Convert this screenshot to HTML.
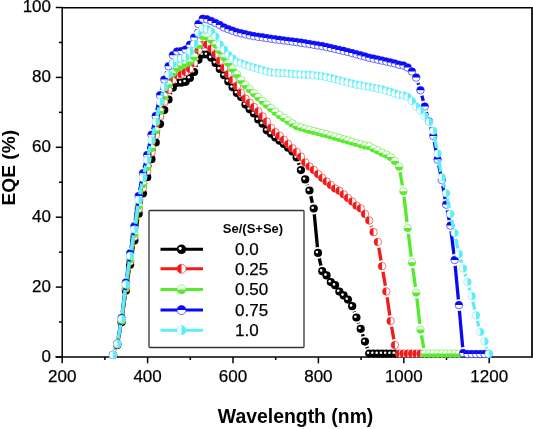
<!DOCTYPE html>
<html><head><meta charset="utf-8"><style>
html,body{margin:0;padding:0;background:#fff;width:533px;height:429px;overflow:hidden}
svg{display:block;will-change:transform}
.t{font-family:"Liberation Sans",sans-serif;font-size:17px;fill:#000;stroke:#000;stroke-width:0.25px}
.b{font-family:"Liberation Sans",sans-serif;font-weight:bold;fill:#000}
</style></head><body>
<svg width="533" height="429" viewBox="0 0 533 429">
<defs><mask id="mk" maskUnits="userSpaceOnUse" x="0" y="0" width="533" height="429"><rect width="533" height="429" fill="#fff"/><circle cx="113.04" cy="355.00" r="5.90" fill="#000"/><circle cx="117.31" cy="345.00" r="5.90" fill="#000"/><circle cx="121.58" cy="322.30" r="5.90" fill="#000"/><circle cx="125.85" cy="290.70" r="5.90" fill="#000"/><circle cx="130.12" cy="264.70" r="5.90" fill="#000"/><circle cx="134.39" cy="240.60" r="5.90" fill="#000"/><circle cx="138.66" cy="213.70" r="5.90" fill="#000"/><circle cx="142.93" cy="193.50" r="5.90" fill="#000"/><circle cx="147.20" cy="177.20" r="5.90" fill="#000"/><circle cx="151.47" cy="159.20" r="5.90" fill="#000"/><circle cx="155.74" cy="142.50" r="5.90" fill="#000"/><circle cx="160.01" cy="124.10" r="5.90" fill="#000"/><circle cx="164.28" cy="110.10" r="5.90" fill="#000"/><circle cx="168.55" cy="99.50" r="5.90" fill="#000"/><circle cx="172.82" cy="87.70" r="5.90" fill="#000"/><circle cx="177.09" cy="82.80" r="5.90" fill="#000"/><circle cx="181.36" cy="82.70" r="5.90" fill="#000"/><circle cx="185.63" cy="81.80" r="5.90" fill="#000"/><circle cx="189.90" cy="78.00" r="5.90" fill="#000"/><circle cx="194.17" cy="72.00" r="5.90" fill="#000"/><circle cx="198.44" cy="59.80" r="5.90" fill="#000"/><circle cx="202.71" cy="54.50" r="5.90" fill="#000"/><circle cx="206.98" cy="54.50" r="5.90" fill="#000"/><circle cx="211.25" cy="57.68" r="5.90" fill="#000"/><circle cx="215.52" cy="62.91" r="5.90" fill="#000"/><circle cx="219.79" cy="68.93" r="5.90" fill="#000"/><circle cx="224.06" cy="75.26" r="5.90" fill="#000"/><circle cx="228.33" cy="81.41" r="5.90" fill="#000"/><circle cx="232.60" cy="87.26" r="5.90" fill="#000"/><circle cx="236.87" cy="92.91" r="5.90" fill="#000"/><circle cx="241.14" cy="97.10" r="5.90" fill="#000"/><circle cx="245.41" cy="104.60" r="5.90" fill="#000"/><circle cx="249.68" cy="109.30" r="5.90" fill="#000"/><circle cx="253.95" cy="113.50" r="5.90" fill="#000"/><circle cx="258.22" cy="119.50" r="5.90" fill="#000"/><circle cx="262.49" cy="123.70" r="5.90" fill="#000"/><circle cx="266.76" cy="130.30" r="5.90" fill="#000"/><circle cx="271.03" cy="133.70" r="5.90" fill="#000"/><circle cx="275.30" cy="137.50" r="5.90" fill="#000"/><circle cx="279.57" cy="140.70" r="5.90" fill="#000"/><circle cx="283.84" cy="144.00" r="5.90" fill="#000"/><circle cx="288.11" cy="147.70" r="5.90" fill="#000"/><circle cx="292.38" cy="151.50" r="5.90" fill="#000"/><circle cx="296.65" cy="157.50" r="5.90" fill="#000"/><circle cx="300.92" cy="170.10" r="5.90" fill="#000"/><circle cx="305.19" cy="179.40" r="5.90" fill="#000"/><circle cx="309.46" cy="190.50" r="5.90" fill="#000"/><circle cx="313.73" cy="208.50" r="5.90" fill="#000"/><circle cx="318.00" cy="252.90" r="5.90" fill="#000"/><circle cx="322.27" cy="271.20" r="5.90" fill="#000"/><circle cx="326.54" cy="275.40" r="5.90" fill="#000"/><circle cx="330.81" cy="282.10" r="5.90" fill="#000"/><circle cx="335.08" cy="285.20" r="5.90" fill="#000"/><circle cx="339.35" cy="291.50" r="5.90" fill="#000"/><circle cx="343.62" cy="295.40" r="5.90" fill="#000"/><circle cx="347.89" cy="299.60" r="5.90" fill="#000"/><circle cx="352.16" cy="306.20" r="5.90" fill="#000"/><circle cx="356.43" cy="317.50" r="5.90" fill="#000"/><circle cx="360.70" cy="328.80" r="5.90" fill="#000"/><circle cx="364.97" cy="341.60" r="5.90" fill="#000"/><circle cx="369.24" cy="353.60" r="5.90" fill="#000"/><circle cx="373.51" cy="353.60" r="5.90" fill="#000"/><circle cx="377.78" cy="353.60" r="5.90" fill="#000"/><circle cx="382.05" cy="353.60" r="5.90" fill="#000"/><circle cx="386.32" cy="353.60" r="5.90" fill="#000"/><circle cx="390.59" cy="353.60" r="5.90" fill="#000"/><circle cx="394.86" cy="353.60" r="5.90" fill="#000"/></mask><mask id="mr" maskUnits="userSpaceOnUse" x="0" y="0" width="533" height="429"><rect width="533" height="429" fill="#fff"/><circle cx="113.04" cy="355.00" r="5.90" fill="#000"/><circle cx="117.31" cy="344.60" r="5.90" fill="#000"/><circle cx="121.58" cy="321.10" r="5.90" fill="#000"/><circle cx="125.85" cy="288.50" r="5.90" fill="#000"/><circle cx="130.12" cy="261.60" r="5.90" fill="#000"/><circle cx="134.39" cy="236.70" r="5.90" fill="#000"/><circle cx="138.66" cy="208.90" r="5.90" fill="#000"/><circle cx="142.93" cy="188.00" r="5.90" fill="#000"/><circle cx="147.20" cy="171.20" r="5.90" fill="#000"/><circle cx="151.47" cy="152.60" r="5.90" fill="#000"/><circle cx="155.74" cy="135.30" r="5.90" fill="#000"/><circle cx="160.01" cy="116.20" r="5.90" fill="#000"/><circle cx="164.28" cy="101.80" r="5.90" fill="#000"/><circle cx="168.55" cy="90.00" r="5.90" fill="#000"/><circle cx="172.82" cy="80.00" r="5.90" fill="#000"/><circle cx="177.09" cy="75.00" r="5.90" fill="#000"/><circle cx="181.36" cy="74.30" r="5.90" fill="#000"/><circle cx="185.63" cy="72.00" r="5.90" fill="#000"/><circle cx="189.90" cy="68.90" r="5.90" fill="#000"/><circle cx="194.17" cy="62.90" r="5.90" fill="#000"/><circle cx="198.44" cy="50.80" r="5.90" fill="#000"/><circle cx="202.71" cy="44.70" r="5.90" fill="#000"/><circle cx="206.98" cy="44.62" r="5.90" fill="#000"/><circle cx="211.25" cy="48.57" r="5.90" fill="#000"/><circle cx="215.52" cy="54.26" r="5.90" fill="#000"/><circle cx="219.79" cy="61.02" r="5.90" fill="#000"/><circle cx="224.06" cy="67.93" r="5.90" fill="#000"/><circle cx="228.33" cy="74.30" r="5.90" fill="#000"/><circle cx="232.60" cy="80.13" r="5.90" fill="#000"/><circle cx="236.87" cy="86.14" r="5.90" fill="#000"/><circle cx="241.14" cy="92.82" r="5.90" fill="#000"/><circle cx="245.41" cy="98.55" r="5.90" fill="#000"/><circle cx="249.68" cy="102.81" r="5.90" fill="#000"/><circle cx="253.95" cy="107.07" r="5.90" fill="#000"/><circle cx="258.22" cy="111.32" r="5.90" fill="#000"/><circle cx="262.49" cy="116.38" r="5.90" fill="#000"/><circle cx="266.76" cy="121.57" r="5.90" fill="#000"/><circle cx="271.03" cy="127.93" r="5.90" fill="#000"/><circle cx="275.30" cy="132.30" r="5.90" fill="#000"/><circle cx="279.57" cy="135.77" r="5.90" fill="#000"/><circle cx="283.84" cy="139.77" r="5.90" fill="#000"/><circle cx="288.11" cy="144.07" r="5.90" fill="#000"/><circle cx="292.38" cy="148.38" r="5.90" fill="#000"/><circle cx="296.65" cy="152.14" r="5.90" fill="#000"/><circle cx="300.92" cy="156.75" r="5.90" fill="#000"/><circle cx="305.19" cy="162.49" r="5.90" fill="#000"/><circle cx="309.46" cy="166.53" r="5.90" fill="#000"/><circle cx="313.73" cy="169.92" r="5.90" fill="#000"/><circle cx="318.00" cy="174.08" r="5.90" fill="#000"/><circle cx="322.27" cy="177.94" r="5.90" fill="#000"/><circle cx="326.54" cy="181.50" r="5.90" fill="#000"/><circle cx="330.81" cy="185.06" r="5.90" fill="#000"/><circle cx="335.08" cy="188.49" r="5.90" fill="#000"/><circle cx="339.35" cy="190.78" r="5.90" fill="#000"/><circle cx="343.62" cy="194.33" r="5.90" fill="#000"/><circle cx="347.89" cy="197.89" r="5.90" fill="#000"/><circle cx="352.16" cy="201.56" r="5.90" fill="#000"/><circle cx="356.43" cy="205.71" r="5.90" fill="#000"/><circle cx="360.70" cy="208.40" r="5.90" fill="#000"/><circle cx="364.97" cy="214.00" r="5.90" fill="#000"/><circle cx="369.24" cy="220.50" r="5.90" fill="#000"/><circle cx="373.51" cy="232.10" r="5.90" fill="#000"/><circle cx="377.78" cy="242.00" r="5.90" fill="#000"/><circle cx="382.05" cy="266.20" r="5.90" fill="#000"/><circle cx="386.32" cy="291.50" r="5.90" fill="#000"/><circle cx="390.59" cy="321.10" r="5.90" fill="#000"/><circle cx="394.86" cy="345.00" r="5.90" fill="#000"/><circle cx="399.13" cy="353.60" r="5.90" fill="#000"/><circle cx="403.40" cy="353.60" r="5.90" fill="#000"/><circle cx="407.67" cy="353.60" r="5.90" fill="#000"/><circle cx="411.94" cy="353.60" r="5.90" fill="#000"/><circle cx="416.21" cy="353.60" r="5.90" fill="#000"/><circle cx="420.48" cy="353.60" r="5.90" fill="#000"/></mask><mask id="mg" maskUnits="userSpaceOnUse" x="0" y="0" width="533" height="429"><rect width="533" height="429" fill="#fff"/><circle cx="113.04" cy="354.90" r="5.90" fill="#000"/><circle cx="117.31" cy="344.30" r="5.90" fill="#000"/><circle cx="121.58" cy="320.30" r="5.90" fill="#000"/><circle cx="125.85" cy="287.00" r="5.90" fill="#000"/><circle cx="130.12" cy="259.50" r="5.90" fill="#000"/><circle cx="134.39" cy="234.00" r="5.90" fill="#000"/><circle cx="138.66" cy="205.70" r="5.90" fill="#000"/><circle cx="142.93" cy="184.30" r="5.90" fill="#000"/><circle cx="147.20" cy="167.10" r="5.90" fill="#000"/><circle cx="151.47" cy="148.10" r="5.90" fill="#000"/><circle cx="155.74" cy="130.50" r="5.90" fill="#000"/><circle cx="160.01" cy="111.00" r="5.90" fill="#000"/><circle cx="164.28" cy="96.20" r="5.90" fill="#000"/><circle cx="168.55" cy="84.20" r="5.90" fill="#000"/><circle cx="172.82" cy="73.00" r="5.90" fill="#000"/><circle cx="177.09" cy="68.10" r="5.90" fill="#000"/><circle cx="181.36" cy="65.50" r="5.90" fill="#000"/><circle cx="185.63" cy="63.60" r="5.90" fill="#000"/><circle cx="189.90" cy="61.40" r="5.90" fill="#000"/><circle cx="194.17" cy="56.80" r="5.90" fill="#000"/><circle cx="198.44" cy="45.00" r="5.90" fill="#000"/><circle cx="202.71" cy="36.00" r="5.90" fill="#000"/><circle cx="206.98" cy="36.69" r="5.90" fill="#000"/><circle cx="211.25" cy="39.87" r="5.90" fill="#000"/><circle cx="215.52" cy="44.20" r="5.90" fill="#000"/><circle cx="219.79" cy="50.62" r="5.90" fill="#000"/><circle cx="224.06" cy="57.35" r="5.90" fill="#000"/><circle cx="228.33" cy="63.04" r="5.90" fill="#000"/><circle cx="232.60" cy="68.68" r="5.90" fill="#000"/><circle cx="236.87" cy="74.37" r="5.90" fill="#000"/><circle cx="241.14" cy="80.19" r="5.90" fill="#000"/><circle cx="245.41" cy="85.30" r="5.90" fill="#000"/><circle cx="249.68" cy="89.29" r="5.90" fill="#000"/><circle cx="253.95" cy="93.27" r="5.90" fill="#000"/><circle cx="258.22" cy="97.26" r="5.90" fill="#000"/><circle cx="262.49" cy="100.96" r="5.90" fill="#000"/><circle cx="266.76" cy="104.61" r="5.90" fill="#000"/><circle cx="271.03" cy="108.26" r="5.90" fill="#000"/><circle cx="275.30" cy="111.92" r="5.90" fill="#000"/><circle cx="279.57" cy="115.14" r="5.90" fill="#000"/><circle cx="283.84" cy="117.91" r="5.90" fill="#000"/><circle cx="288.11" cy="120.69" r="5.90" fill="#000"/><circle cx="292.38" cy="123.46" r="5.90" fill="#000"/><circle cx="296.65" cy="126.11" r="5.90" fill="#000"/><circle cx="300.92" cy="127.40" r="5.90" fill="#000"/><circle cx="305.19" cy="128.70" r="5.90" fill="#000"/><circle cx="309.46" cy="129.97" r="5.90" fill="#000"/><circle cx="313.73" cy="131.04" r="5.90" fill="#000"/><circle cx="318.00" cy="132.11" r="5.90" fill="#000"/><circle cx="322.27" cy="133.19" r="5.90" fill="#000"/><circle cx="326.54" cy="134.26" r="5.90" fill="#000"/><circle cx="330.81" cy="135.49" r="5.90" fill="#000"/><circle cx="335.08" cy="136.76" r="5.90" fill="#000"/><circle cx="339.35" cy="138.03" r="5.90" fill="#000"/><circle cx="343.62" cy="139.30" r="5.90" fill="#000"/><circle cx="347.89" cy="140.56" r="5.90" fill="#000"/><circle cx="352.16" cy="141.79" r="5.90" fill="#000"/><circle cx="356.43" cy="143.03" r="5.90" fill="#000"/><circle cx="360.70" cy="144.26" r="5.90" fill="#000"/><circle cx="364.97" cy="145.49" r="5.90" fill="#000"/><circle cx="369.24" cy="146.23" r="5.90" fill="#000"/><circle cx="373.51" cy="148.55" r="5.90" fill="#000"/><circle cx="377.78" cy="150.44" r="5.90" fill="#000"/><circle cx="382.05" cy="152.72" r="5.90" fill="#000"/><circle cx="386.32" cy="154.51" r="5.90" fill="#000"/><circle cx="390.59" cy="157.07" r="5.90" fill="#000"/><circle cx="394.86" cy="161.00" r="5.90" fill="#000"/><circle cx="399.13" cy="166.70" r="5.90" fill="#000"/><circle cx="403.40" cy="191.20" r="5.90" fill="#000"/><circle cx="407.67" cy="228.00" r="5.90" fill="#000"/><circle cx="411.94" cy="262.30" r="5.90" fill="#000"/><circle cx="416.21" cy="292.60" r="5.90" fill="#000"/><circle cx="420.48" cy="329.60" r="5.90" fill="#000"/><circle cx="424.75" cy="353.60" r="5.90" fill="#000"/><circle cx="429.02" cy="353.60" r="5.90" fill="#000"/><circle cx="433.29" cy="353.60" r="5.90" fill="#000"/><circle cx="437.56" cy="353.60" r="5.90" fill="#000"/><circle cx="441.83" cy="353.60" r="5.90" fill="#000"/><circle cx="446.10" cy="353.60" r="5.90" fill="#000"/><circle cx="450.37" cy="353.60" r="5.90" fill="#000"/><circle cx="454.64" cy="353.60" r="5.90" fill="#000"/><circle cx="458.91" cy="353.60" r="5.90" fill="#000"/></mask><mask id="mb" maskUnits="userSpaceOnUse" x="0" y="0" width="533" height="429"><rect width="533" height="429" fill="#fff"/><circle cx="113.04" cy="354.80" r="5.90" fill="#000"/><circle cx="117.31" cy="343.50" r="5.90" fill="#000"/><circle cx="121.58" cy="318.00" r="5.90" fill="#000"/><circle cx="125.85" cy="282.50" r="5.90" fill="#000"/><circle cx="130.12" cy="253.30" r="5.90" fill="#000"/><circle cx="134.39" cy="226.20" r="5.90" fill="#000"/><circle cx="138.66" cy="196.00" r="5.90" fill="#000"/><circle cx="142.93" cy="173.30" r="5.90" fill="#000"/><circle cx="147.20" cy="155.00" r="5.90" fill="#000"/><circle cx="151.47" cy="134.80" r="5.90" fill="#000"/><circle cx="155.74" cy="116.00" r="5.90" fill="#000"/><circle cx="160.01" cy="95.30" r="5.90" fill="#000"/><circle cx="164.28" cy="79.60" r="5.90" fill="#000"/><circle cx="168.55" cy="66.20" r="5.90" fill="#000"/><circle cx="172.82" cy="55.30" r="5.90" fill="#000"/><circle cx="177.09" cy="51.50" r="5.90" fill="#000"/><circle cx="181.36" cy="51.00" r="5.90" fill="#000"/><circle cx="185.63" cy="49.50" r="5.90" fill="#000"/><circle cx="189.90" cy="44.70" r="5.90" fill="#000"/><circle cx="194.17" cy="37.60" r="5.90" fill="#000"/><circle cx="198.44" cy="24.00" r="5.90" fill="#000"/><circle cx="202.71" cy="18.70" r="5.90" fill="#000"/><circle cx="206.98" cy="19.30" r="5.90" fill="#000"/><circle cx="211.25" cy="21.00" r="5.90" fill="#000"/><circle cx="215.52" cy="23.00" r="5.90" fill="#000"/><circle cx="219.79" cy="25.00" r="5.90" fill="#000"/><circle cx="224.06" cy="27.46" r="5.90" fill="#000"/><circle cx="228.33" cy="29.20" r="5.90" fill="#000"/><circle cx="232.60" cy="30.74" r="5.90" fill="#000"/><circle cx="236.87" cy="32.27" r="5.90" fill="#000"/><circle cx="241.14" cy="33.32" r="5.90" fill="#000"/><circle cx="245.41" cy="34.29" r="5.90" fill="#000"/><circle cx="249.68" cy="35.25" r="5.90" fill="#000"/><circle cx="253.95" cy="36.14" r="5.90" fill="#000"/><circle cx="258.22" cy="36.78" r="5.90" fill="#000"/><circle cx="262.49" cy="37.42" r="5.90" fill="#000"/><circle cx="266.76" cy="38.06" r="5.90" fill="#000"/><circle cx="271.03" cy="38.70" r="5.90" fill="#000"/><circle cx="275.30" cy="39.34" r="5.90" fill="#000"/><circle cx="279.57" cy="39.88" r="5.90" fill="#000"/><circle cx="283.84" cy="40.43" r="5.90" fill="#000"/><circle cx="288.11" cy="40.98" r="5.90" fill="#000"/><circle cx="292.38" cy="41.52" r="5.90" fill="#000"/><circle cx="296.65" cy="42.07" r="5.90" fill="#000"/><circle cx="300.92" cy="42.65" r="5.90" fill="#000"/><circle cx="305.19" cy="43.35" r="5.90" fill="#000"/><circle cx="309.46" cy="44.04" r="5.90" fill="#000"/><circle cx="313.73" cy="44.74" r="5.90" fill="#000"/><circle cx="318.00" cy="45.44" r="5.90" fill="#000"/><circle cx="322.27" cy="46.13" r="5.90" fill="#000"/><circle cx="326.54" cy="47.04" r="5.90" fill="#000"/><circle cx="330.81" cy="48.01" r="5.90" fill="#000"/><circle cx="335.08" cy="48.98" r="5.90" fill="#000"/><circle cx="339.35" cy="49.95" r="5.90" fill="#000"/><circle cx="343.62" cy="50.92" r="5.90" fill="#000"/><circle cx="347.89" cy="51.95" r="5.90" fill="#000"/><circle cx="352.16" cy="53.10" r="5.90" fill="#000"/><circle cx="356.43" cy="54.25" r="5.90" fill="#000"/><circle cx="360.70" cy="55.40" r="5.90" fill="#000"/><circle cx="364.97" cy="56.55" r="5.90" fill="#000"/><circle cx="369.24" cy="57.70" r="5.90" fill="#000"/><circle cx="373.51" cy="58.67" r="5.90" fill="#000"/><circle cx="377.78" cy="59.61" r="5.90" fill="#000"/><circle cx="382.05" cy="60.55" r="5.90" fill="#000"/><circle cx="386.32" cy="61.49" r="5.90" fill="#000"/><circle cx="390.59" cy="62.43" r="5.90" fill="#000"/><circle cx="394.86" cy="63.50" r="5.90" fill="#000"/><circle cx="399.13" cy="64.79" r="5.90" fill="#000"/><circle cx="403.40" cy="65.50" r="5.90" fill="#000"/><circle cx="407.67" cy="67.50" r="5.90" fill="#000"/><circle cx="411.94" cy="71.50" r="5.90" fill="#000"/><circle cx="416.21" cy="77.60" r="5.90" fill="#000"/><circle cx="420.48" cy="90.20" r="5.90" fill="#000"/><circle cx="424.75" cy="106.50" r="5.90" fill="#000"/><circle cx="429.02" cy="121.50" r="5.90" fill="#000"/><circle cx="433.29" cy="136.00" r="5.90" fill="#000"/><circle cx="437.56" cy="159.60" r="5.90" fill="#000"/><circle cx="441.83" cy="180.00" r="5.90" fill="#000"/><circle cx="446.10" cy="204.60" r="5.90" fill="#000"/><circle cx="450.37" cy="225.60" r="5.90" fill="#000"/><circle cx="454.64" cy="260.00" r="5.90" fill="#000"/><circle cx="458.91" cy="305.10" r="5.90" fill="#000"/><circle cx="463.18" cy="353.00" r="5.90" fill="#000"/><circle cx="467.45" cy="354.00" r="5.90" fill="#000"/><circle cx="471.72" cy="354.00" r="5.90" fill="#000"/><circle cx="475.99" cy="354.00" r="5.90" fill="#000"/><circle cx="480.26" cy="354.00" r="5.90" fill="#000"/><circle cx="484.53" cy="354.00" r="5.90" fill="#000"/><circle cx="488.80" cy="354.00" r="5.90" fill="#000"/></mask><mask id="mc" maskUnits="userSpaceOnUse" x="0" y="0" width="533" height="429"><rect width="533" height="429" fill="#fff"/><circle cx="113.04" cy="354.90" r="5.90" fill="#000"/><circle cx="117.31" cy="343.80" r="5.90" fill="#000"/><circle cx="121.58" cy="319.00" r="5.90" fill="#000"/><circle cx="125.85" cy="284.40" r="5.90" fill="#000"/><circle cx="130.12" cy="255.90" r="5.90" fill="#000"/><circle cx="134.39" cy="229.50" r="5.90" fill="#000"/><circle cx="138.66" cy="200.00" r="5.90" fill="#000"/><circle cx="142.93" cy="177.90" r="5.90" fill="#000"/><circle cx="147.20" cy="160.10" r="5.90" fill="#000"/><circle cx="151.47" cy="140.40" r="5.90" fill="#000"/><circle cx="155.74" cy="122.00" r="5.90" fill="#000"/><circle cx="160.01" cy="101.80" r="5.90" fill="#000"/><circle cx="164.28" cy="87.00" r="5.90" fill="#000"/><circle cx="168.55" cy="74.50" r="5.90" fill="#000"/><circle cx="172.82" cy="63.50" r="5.90" fill="#000"/><circle cx="177.09" cy="59.00" r="5.90" fill="#000"/><circle cx="181.36" cy="58.50" r="5.90" fill="#000"/><circle cx="185.63" cy="56.80" r="5.90" fill="#000"/><circle cx="189.90" cy="51.50" r="5.90" fill="#000"/><circle cx="194.17" cy="44.00" r="5.90" fill="#000"/><circle cx="198.44" cy="33.00" r="5.90" fill="#000"/><circle cx="202.71" cy="28.40" r="5.90" fill="#000"/><circle cx="206.98" cy="29.00" r="5.90" fill="#000"/><circle cx="211.25" cy="31.50" r="5.90" fill="#000"/><circle cx="215.52" cy="36.50" r="5.90" fill="#000"/><circle cx="219.79" cy="44.50" r="5.90" fill="#000"/><circle cx="224.06" cy="49.50" r="5.90" fill="#000"/><circle cx="228.33" cy="55.00" r="5.90" fill="#000"/><circle cx="232.60" cy="58.50" r="5.90" fill="#000"/><circle cx="236.87" cy="62.00" r="5.90" fill="#000"/><circle cx="241.14" cy="63.25" r="5.90" fill="#000"/><circle cx="245.41" cy="64.91" r="5.90" fill="#000"/><circle cx="249.68" cy="66.57" r="5.90" fill="#000"/><circle cx="253.95" cy="67.60" r="5.90" fill="#000"/><circle cx="258.22" cy="68.80" r="5.90" fill="#000"/><circle cx="262.49" cy="70.14" r="5.90" fill="#000"/><circle cx="266.76" cy="71.37" r="5.90" fill="#000"/><circle cx="271.03" cy="72.37" r="5.90" fill="#000"/><circle cx="275.30" cy="72.67" r="5.90" fill="#000"/><circle cx="279.57" cy="72.97" r="5.90" fill="#000"/><circle cx="283.84" cy="73.23" r="5.90" fill="#000"/><circle cx="288.11" cy="73.49" r="5.90" fill="#000"/><circle cx="292.38" cy="73.93" r="5.90" fill="#000"/><circle cx="296.65" cy="74.36" r="5.90" fill="#000"/><circle cx="300.92" cy="74.51" r="5.90" fill="#000"/><circle cx="305.19" cy="74.66" r="5.90" fill="#000"/><circle cx="309.46" cy="74.85" r="5.90" fill="#000"/><circle cx="313.73" cy="75.31" r="5.90" fill="#000"/><circle cx="318.00" cy="75.76" r="5.90" fill="#000"/><circle cx="322.27" cy="76.22" r="5.90" fill="#000"/><circle cx="326.54" cy="77.11" r="5.90" fill="#000"/><circle cx="330.81" cy="78.11" r="5.90" fill="#000"/><circle cx="335.08" cy="79.22" r="5.90" fill="#000"/><circle cx="339.35" cy="80.33" r="5.90" fill="#000"/><circle cx="343.62" cy="81.44" r="5.90" fill="#000"/><circle cx="347.89" cy="82.55" r="5.90" fill="#000"/><circle cx="352.16" cy="83.66" r="5.90" fill="#000"/><circle cx="356.43" cy="84.67" r="5.90" fill="#000"/><circle cx="360.70" cy="85.46" r="5.90" fill="#000"/><circle cx="364.97" cy="86.25" r="5.90" fill="#000"/><circle cx="369.24" cy="87.04" r="5.90" fill="#000"/><circle cx="373.51" cy="87.84" r="5.90" fill="#000"/><circle cx="377.78" cy="88.63" r="5.90" fill="#000"/><circle cx="382.05" cy="89.42" r="5.90" fill="#000"/><circle cx="386.32" cy="90.71" r="5.90" fill="#000"/><circle cx="390.59" cy="92.13" r="5.90" fill="#000"/><circle cx="394.86" cy="93.59" r="5.90" fill="#000"/><circle cx="399.13" cy="95.12" r="5.90" fill="#000"/><circle cx="403.40" cy="95.50" r="5.90" fill="#000"/><circle cx="407.67" cy="97.00" r="5.90" fill="#000"/><circle cx="411.94" cy="101.00" r="5.90" fill="#000"/><circle cx="416.21" cy="106.50" r="5.90" fill="#000"/><circle cx="420.48" cy="110.60" r="5.90" fill="#000"/><circle cx="424.75" cy="116.30" r="5.90" fill="#000"/><circle cx="429.02" cy="122.00" r="5.90" fill="#000"/><circle cx="433.29" cy="130.80" r="5.90" fill="#000"/><circle cx="437.56" cy="153.60" r="5.90" fill="#000"/><circle cx="441.83" cy="177.40" r="5.90" fill="#000"/><circle cx="446.10" cy="193.20" r="5.90" fill="#000"/><circle cx="450.37" cy="214.00" r="5.90" fill="#000"/><circle cx="454.64" cy="233.00" r="5.90" fill="#000"/><circle cx="458.91" cy="254.00" r="5.90" fill="#000"/><circle cx="463.18" cy="268.50" r="5.90" fill="#000"/><circle cx="467.45" cy="282.00" r="5.90" fill="#000"/><circle cx="471.72" cy="296.00" r="5.90" fill="#000"/><circle cx="475.99" cy="315.40" r="5.90" fill="#000"/><circle cx="480.26" cy="332.00" r="5.90" fill="#000"/><circle cx="484.53" cy="341.50" r="5.90" fill="#000"/><circle cx="488.80" cy="353.80" r="5.90" fill="#000"/></mask></defs>
<g stroke="#000" stroke-width="1.5" fill="none"><line x1="62.2" y1="7.8" x2="531" y2="7.8"/><line x1="62.2" y1="7.1" x2="62.2" y2="357.7"/><line x1="55.5" y1="357" x2="531" y2="357"/><line x1="55.8" y1="357.00" x2="62.2" y2="357.00"/><line x1="55.8" y1="287.10" x2="62.2" y2="287.10"/><line x1="55.8" y1="217.20" x2="62.2" y2="217.20"/><line x1="55.8" y1="147.30" x2="62.2" y2="147.30"/><line x1="55.8" y1="77.40" x2="62.2" y2="77.40"/><line x1="55.8" y1="7.50" x2="62.2" y2="7.50"/><line x1="59" y1="322.05" x2="62.2" y2="322.05"/><line x1="59" y1="252.15" x2="62.2" y2="252.15"/><line x1="59" y1="182.25" x2="62.2" y2="182.25"/><line x1="59" y1="112.35" x2="62.2" y2="112.35"/><line x1="59" y1="42.45" x2="62.2" y2="42.45"/><line x1="62.20" y1="357" x2="62.20" y2="363.3"/><line x1="147.60" y1="357" x2="147.60" y2="363.3"/><line x1="233.00" y1="357" x2="233.00" y2="363.3"/><line x1="318.40" y1="357" x2="318.40" y2="363.3"/><line x1="403.80" y1="357" x2="403.80" y2="363.3"/><line x1="489.20" y1="357" x2="489.20" y2="363.3"/><line x1="104.90" y1="357" x2="104.90" y2="360"/><line x1="190.30" y1="357" x2="190.30" y2="360"/><line x1="275.70" y1="357" x2="275.70" y2="360"/><line x1="361.10" y1="357" x2="361.10" y2="360"/><line x1="446.50" y1="357" x2="446.50" y2="360"/></g><line x1="532" y1="7" x2="532" y2="358" stroke="#222" stroke-width="2"/>
<text x="51" y="361.80" text-anchor="end" class="t">0</text><text x="51" y="291.90" text-anchor="end" class="t">20</text><text x="51" y="222.00" text-anchor="end" class="t">40</text><text x="51" y="152.10" text-anchor="end" class="t">60</text><text x="51" y="82.20" text-anchor="end" class="t">80</text><text x="51" y="12.30" text-anchor="end" class="t">100</text><text x="62.20" y="381.6" text-anchor="middle" class="t">200</text><text x="147.60" y="381.6" text-anchor="middle" class="t">400</text><text x="233.00" y="381.6" text-anchor="middle" class="t">600</text><text x="318.40" y="381.6" text-anchor="middle" class="t">800</text><text x="403.80" y="381.6" text-anchor="middle" class="t">1000</text><text x="489.20" y="381.6" text-anchor="middle" class="t">1200</text><text x="295.6" y="423.4" text-anchor="middle" class="b" font-size="19.4">Wavelength (nm)</text><text transform="translate(15.4,167.7) rotate(-90)" text-anchor="middle" class="b" font-size="19.2">EQE (%)</text>
<rect x="149" y="210.5" width="155" height="137" rx="1" fill="#fff" stroke="#333" stroke-width="1.3"/><text x="253" y="233" text-anchor="middle" class="b" font-size="13">Se/(S+Se)</text><line x1="160.5" y1="249.3" x2="203" y2="249.3" stroke="#000000" stroke-width="3"/><circle cx="181.50" cy="249.30" r="4.80" fill="#000"/><circle cx="180.21" cy="248.36" r="1.52" fill="#fff"/><text x="235" y="255.20" class="t" font-size="16.5">0.0</text><line x1="160.5" y1="268.8" x2="203" y2="268.8" stroke="#f01c1c" stroke-width="3"/><circle cx="181.50" cy="268.80" r="4.50" fill="#fff"/><path d="M181.50,264.30A4.50,4.50 0 0 0 181.50,273.30Z" fill="#f01c1c"/><circle cx="181.50" cy="268.80" r="4.50" fill="none" stroke="#f01c1c" stroke-width="0.6"/><text x="235" y="274.70" class="t" font-size="16.5">0.25</text><line x1="160.5" y1="289.4" x2="203" y2="289.4" stroke="#55ea2c" stroke-width="3"/><circle cx="181.50" cy="289.40" r="4.50" fill="#fff"/><path d="M177.00,289.40A4.50,4.50 0 0 0 186.00,289.40Z" fill="#55ea2c"/><circle cx="181.50" cy="289.40" r="4.50" fill="none" stroke="#55ea2c" stroke-width="0.6"/><text x="235" y="295.30" class="t" font-size="16.5">0.50</text><line x1="160.5" y1="310" x2="203" y2="310" stroke="#0a0af6" stroke-width="3"/><circle cx="181.50" cy="310.00" r="4.50" fill="#fff"/><path d="M177.00,310.00A4.50,4.50 0 0 1 186.00,310.00Z" fill="#0a0af6"/><circle cx="181.50" cy="310.00" r="4.50" fill="none" stroke="#0a0af6" stroke-width="0.6"/><text x="235" y="315.90" class="t" font-size="16.5">0.75</text><line x1="160.5" y1="330.2" x2="203" y2="330.2" stroke="#5aeef8" stroke-width="3"/><circle cx="181.50" cy="330.20" r="4.50" fill="#fff"/><path d="M181.50,325.70A4.50,4.50 0 0 1 181.50,334.70Z" fill="#5aeef8"/><circle cx="181.50" cy="330.20" r="4.50" fill="none" stroke="#5aeef8" stroke-width="0.6"/><text x="235" y="336.10" class="t" font-size="16.5">1.0</text>
<polyline points="113.04,355.00 117.31,345.00 121.58,322.30 125.85,290.70 130.12,264.70 134.39,240.60 138.66,213.70 142.93,193.50 147.20,177.20 151.47,159.20 155.74,142.50 160.01,124.10 164.28,110.10 168.55,99.50 172.82,87.70 177.09,82.80 181.36,82.70 185.63,81.80 189.90,78.00 194.17,72.00 198.44,59.80 202.71,54.50 206.98,54.50 211.25,57.68 215.52,62.91 219.79,68.93 224.06,75.26 228.33,81.41 232.60,87.26 236.87,92.91 241.14,97.10 245.41,104.60 249.68,109.30 253.95,113.50 258.22,119.50 262.49,123.70 266.76,130.30 271.03,133.70 275.30,137.50 279.57,140.70 283.84,144.00 288.11,147.70 292.38,151.50 296.65,157.50 300.92,170.10 305.19,179.40 309.46,190.50 313.73,208.50 318.00,252.90 322.27,271.20 326.54,275.40 330.81,282.10 335.08,285.20 339.35,291.50 343.62,295.40 347.89,299.60 352.16,306.20 356.43,317.50 360.70,328.80 364.97,341.60 369.24,353.60 373.51,353.60 377.78,353.60 382.05,353.60 386.32,353.60 390.59,353.60 394.86,353.60" fill="none" stroke="#000000" stroke-width="3.3" stroke-linejoin="round" mask="url(#mk)"/><circle cx="113.04" cy="355.00" r="4.10" fill="#000"/><circle cx="111.94" cy="354.20" r="1.30" fill="#fff"/><circle cx="117.31" cy="345.00" r="4.10" fill="#000"/><circle cx="116.21" cy="344.20" r="1.30" fill="#fff"/><circle cx="121.58" cy="322.30" r="4.10" fill="#000"/><circle cx="120.48" cy="321.50" r="1.30" fill="#fff"/><circle cx="125.85" cy="290.70" r="4.10" fill="#000"/><circle cx="124.75" cy="289.90" r="1.30" fill="#fff"/><circle cx="130.12" cy="264.70" r="4.10" fill="#000"/><circle cx="129.02" cy="263.90" r="1.30" fill="#fff"/><circle cx="134.39" cy="240.60" r="4.10" fill="#000"/><circle cx="133.29" cy="239.80" r="1.30" fill="#fff"/><circle cx="138.66" cy="213.70" r="4.10" fill="#000"/><circle cx="137.56" cy="212.90" r="1.30" fill="#fff"/><circle cx="142.93" cy="193.50" r="4.10" fill="#000"/><circle cx="141.83" cy="192.70" r="1.30" fill="#fff"/><circle cx="147.20" cy="177.20" r="4.10" fill="#000"/><circle cx="146.10" cy="176.40" r="1.30" fill="#fff"/><circle cx="151.47" cy="159.20" r="4.10" fill="#000"/><circle cx="150.37" cy="158.40" r="1.30" fill="#fff"/><circle cx="155.74" cy="142.50" r="4.10" fill="#000"/><circle cx="154.64" cy="141.70" r="1.30" fill="#fff"/><circle cx="160.01" cy="124.10" r="4.10" fill="#000"/><circle cx="158.91" cy="123.30" r="1.30" fill="#fff"/><circle cx="164.28" cy="110.10" r="4.10" fill="#000"/><circle cx="163.18" cy="109.30" r="1.30" fill="#fff"/><circle cx="168.55" cy="99.50" r="4.10" fill="#000"/><circle cx="167.45" cy="98.70" r="1.30" fill="#fff"/><circle cx="172.82" cy="87.70" r="4.10" fill="#000"/><circle cx="171.72" cy="86.90" r="1.30" fill="#fff"/><circle cx="177.09" cy="82.80" r="4.10" fill="#000"/><circle cx="175.99" cy="82.00" r="1.30" fill="#fff"/><circle cx="181.36" cy="82.70" r="4.10" fill="#000"/><circle cx="180.26" cy="81.90" r="1.30" fill="#fff"/><circle cx="185.63" cy="81.80" r="4.10" fill="#000"/><circle cx="184.53" cy="81.00" r="1.30" fill="#fff"/><circle cx="189.90" cy="78.00" r="4.10" fill="#000"/><circle cx="188.80" cy="77.20" r="1.30" fill="#fff"/><circle cx="194.17" cy="72.00" r="4.10" fill="#000"/><circle cx="193.07" cy="71.20" r="1.30" fill="#fff"/><circle cx="198.44" cy="59.80" r="4.10" fill="#000"/><circle cx="197.34" cy="59.00" r="1.30" fill="#fff"/><circle cx="202.71" cy="54.50" r="4.10" fill="#000"/><circle cx="201.61" cy="53.70" r="1.30" fill="#fff"/><circle cx="206.98" cy="54.50" r="4.10" fill="#000"/><circle cx="205.88" cy="53.70" r="1.30" fill="#fff"/><circle cx="211.25" cy="57.68" r="4.10" fill="#000"/><circle cx="210.15" cy="56.88" r="1.30" fill="#fff"/><circle cx="215.52" cy="62.91" r="4.10" fill="#000"/><circle cx="214.42" cy="62.11" r="1.30" fill="#fff"/><circle cx="219.79" cy="68.93" r="4.10" fill="#000"/><circle cx="218.69" cy="68.13" r="1.30" fill="#fff"/><circle cx="224.06" cy="75.26" r="4.10" fill="#000"/><circle cx="222.96" cy="74.46" r="1.30" fill="#fff"/><circle cx="228.33" cy="81.41" r="4.10" fill="#000"/><circle cx="227.23" cy="80.61" r="1.30" fill="#fff"/><circle cx="232.60" cy="87.26" r="4.10" fill="#000"/><circle cx="231.50" cy="86.46" r="1.30" fill="#fff"/><circle cx="236.87" cy="92.91" r="4.10" fill="#000"/><circle cx="235.77" cy="92.11" r="1.30" fill="#fff"/><circle cx="241.14" cy="97.10" r="4.10" fill="#000"/><circle cx="240.04" cy="96.30" r="1.30" fill="#fff"/><circle cx="245.41" cy="104.60" r="4.10" fill="#000"/><circle cx="244.31" cy="103.80" r="1.30" fill="#fff"/><circle cx="249.68" cy="109.30" r="4.10" fill="#000"/><circle cx="248.58" cy="108.50" r="1.30" fill="#fff"/><circle cx="253.95" cy="113.50" r="4.10" fill="#000"/><circle cx="252.85" cy="112.70" r="1.30" fill="#fff"/><circle cx="258.22" cy="119.50" r="4.10" fill="#000"/><circle cx="257.12" cy="118.70" r="1.30" fill="#fff"/><circle cx="262.49" cy="123.70" r="4.10" fill="#000"/><circle cx="261.39" cy="122.90" r="1.30" fill="#fff"/><circle cx="266.76" cy="130.30" r="4.10" fill="#000"/><circle cx="265.66" cy="129.50" r="1.30" fill="#fff"/><circle cx="271.03" cy="133.70" r="4.10" fill="#000"/><circle cx="269.93" cy="132.90" r="1.30" fill="#fff"/><circle cx="275.30" cy="137.50" r="4.10" fill="#000"/><circle cx="274.20" cy="136.70" r="1.30" fill="#fff"/><circle cx="279.57" cy="140.70" r="4.10" fill="#000"/><circle cx="278.47" cy="139.90" r="1.30" fill="#fff"/><circle cx="283.84" cy="144.00" r="4.10" fill="#000"/><circle cx="282.74" cy="143.20" r="1.30" fill="#fff"/><circle cx="288.11" cy="147.70" r="4.10" fill="#000"/><circle cx="287.01" cy="146.90" r="1.30" fill="#fff"/><circle cx="292.38" cy="151.50" r="4.10" fill="#000"/><circle cx="291.28" cy="150.70" r="1.30" fill="#fff"/><circle cx="296.65" cy="157.50" r="4.10" fill="#000"/><circle cx="295.55" cy="156.70" r="1.30" fill="#fff"/><circle cx="300.92" cy="170.10" r="4.10" fill="#000"/><circle cx="299.82" cy="169.30" r="1.30" fill="#fff"/><circle cx="305.19" cy="179.40" r="4.10" fill="#000"/><circle cx="304.09" cy="178.60" r="1.30" fill="#fff"/><circle cx="309.46" cy="190.50" r="4.10" fill="#000"/><circle cx="308.36" cy="189.70" r="1.30" fill="#fff"/><circle cx="313.73" cy="208.50" r="4.10" fill="#000"/><circle cx="312.63" cy="207.70" r="1.30" fill="#fff"/><circle cx="318.00" cy="252.90" r="4.10" fill="#000"/><circle cx="316.90" cy="252.10" r="1.30" fill="#fff"/><circle cx="322.27" cy="271.20" r="4.10" fill="#000"/><circle cx="321.17" cy="270.40" r="1.30" fill="#fff"/><circle cx="326.54" cy="275.40" r="4.10" fill="#000"/><circle cx="325.44" cy="274.60" r="1.30" fill="#fff"/><circle cx="330.81" cy="282.10" r="4.10" fill="#000"/><circle cx="329.71" cy="281.30" r="1.30" fill="#fff"/><circle cx="335.08" cy="285.20" r="4.10" fill="#000"/><circle cx="333.98" cy="284.40" r="1.30" fill="#fff"/><circle cx="339.35" cy="291.50" r="4.10" fill="#000"/><circle cx="338.25" cy="290.70" r="1.30" fill="#fff"/><circle cx="343.62" cy="295.40" r="4.10" fill="#000"/><circle cx="342.52" cy="294.60" r="1.30" fill="#fff"/><circle cx="347.89" cy="299.60" r="4.10" fill="#000"/><circle cx="346.79" cy="298.80" r="1.30" fill="#fff"/><circle cx="352.16" cy="306.20" r="4.10" fill="#000"/><circle cx="351.06" cy="305.40" r="1.30" fill="#fff"/><circle cx="356.43" cy="317.50" r="4.10" fill="#000"/><circle cx="355.33" cy="316.70" r="1.30" fill="#fff"/><circle cx="360.70" cy="328.80" r="4.10" fill="#000"/><circle cx="359.60" cy="328.00" r="1.30" fill="#fff"/><circle cx="364.97" cy="341.60" r="4.10" fill="#000"/><circle cx="363.87" cy="340.80" r="1.30" fill="#fff"/><circle cx="369.24" cy="353.60" r="4.10" fill="#000"/><circle cx="368.14" cy="352.80" r="1.30" fill="#fff"/><circle cx="373.51" cy="353.60" r="4.10" fill="#000"/><circle cx="372.41" cy="352.80" r="1.30" fill="#fff"/><circle cx="377.78" cy="353.60" r="4.10" fill="#000"/><circle cx="376.68" cy="352.80" r="1.30" fill="#fff"/><circle cx="382.05" cy="353.60" r="4.10" fill="#000"/><circle cx="380.95" cy="352.80" r="1.30" fill="#fff"/><circle cx="386.32" cy="353.60" r="4.10" fill="#000"/><circle cx="385.22" cy="352.80" r="1.30" fill="#fff"/><circle cx="390.59" cy="353.60" r="4.10" fill="#000"/><circle cx="389.49" cy="352.80" r="1.30" fill="#fff"/><circle cx="394.86" cy="353.60" r="4.10" fill="#000"/><circle cx="393.76" cy="352.80" r="1.30" fill="#fff"/><polyline points="113.04,355.00 117.31,344.60 121.58,321.10 125.85,288.50 130.12,261.60 134.39,236.70 138.66,208.90 142.93,188.00 147.20,171.20 151.47,152.60 155.74,135.30 160.01,116.20 164.28,101.80 168.55,90.00 172.82,80.00 177.09,75.00 181.36,74.30 185.63,72.00 189.90,68.90 194.17,62.90 198.44,50.80 202.71,44.70 206.98,44.62 211.25,48.57 215.52,54.26 219.79,61.02 224.06,67.93 228.33,74.30 232.60,80.13 236.87,86.14 241.14,92.82 245.41,98.55 249.68,102.81 253.95,107.07 258.22,111.32 262.49,116.38 266.76,121.57 271.03,127.93 275.30,132.30 279.57,135.77 283.84,139.77 288.11,144.07 292.38,148.38 296.65,152.14 300.92,156.75 305.19,162.49 309.46,166.53 313.73,169.92 318.00,174.08 322.27,177.94 326.54,181.50 330.81,185.06 335.08,188.49 339.35,190.78 343.62,194.33 347.89,197.89 352.16,201.56 356.43,205.71 360.70,208.40 364.97,214.00 369.24,220.50 373.51,232.10 377.78,242.00 382.05,266.20 386.32,291.50 390.59,321.10 394.86,345.00 399.13,353.60 403.40,353.60 407.67,353.60 411.94,353.60 416.21,353.60 420.48,353.60" fill="none" stroke="#f01c1c" stroke-width="3.3" stroke-linejoin="round" mask="url(#mr)"/><circle cx="113.04" cy="355.00" r="3.80" fill="#fff"/><path d="M113.04,351.20A3.80,3.80 0 0 0 113.04,358.80Z" fill="#f01c1c"/><circle cx="113.04" cy="355.00" r="3.80" fill="none" stroke="#f01c1c" stroke-width="0.6"/><circle cx="117.31" cy="344.60" r="3.80" fill="#fff"/><path d="M117.31,340.80A3.80,3.80 0 0 0 117.31,348.40Z" fill="#f01c1c"/><circle cx="117.31" cy="344.60" r="3.80" fill="none" stroke="#f01c1c" stroke-width="0.6"/><circle cx="121.58" cy="321.10" r="3.80" fill="#fff"/><path d="M121.58,317.30A3.80,3.80 0 0 0 121.58,324.90Z" fill="#f01c1c"/><circle cx="121.58" cy="321.10" r="3.80" fill="none" stroke="#f01c1c" stroke-width="0.6"/><circle cx="125.85" cy="288.50" r="3.80" fill="#fff"/><path d="M125.85,284.70A3.80,3.80 0 0 0 125.85,292.30Z" fill="#f01c1c"/><circle cx="125.85" cy="288.50" r="3.80" fill="none" stroke="#f01c1c" stroke-width="0.6"/><circle cx="130.12" cy="261.60" r="3.80" fill="#fff"/><path d="M130.12,257.80A3.80,3.80 0 0 0 130.12,265.40Z" fill="#f01c1c"/><circle cx="130.12" cy="261.60" r="3.80" fill="none" stroke="#f01c1c" stroke-width="0.6"/><circle cx="134.39" cy="236.70" r="3.80" fill="#fff"/><path d="M134.39,232.90A3.80,3.80 0 0 0 134.39,240.50Z" fill="#f01c1c"/><circle cx="134.39" cy="236.70" r="3.80" fill="none" stroke="#f01c1c" stroke-width="0.6"/><circle cx="138.66" cy="208.90" r="3.80" fill="#fff"/><path d="M138.66,205.10A3.80,3.80 0 0 0 138.66,212.70Z" fill="#f01c1c"/><circle cx="138.66" cy="208.90" r="3.80" fill="none" stroke="#f01c1c" stroke-width="0.6"/><circle cx="142.93" cy="188.00" r="3.80" fill="#fff"/><path d="M142.93,184.20A3.80,3.80 0 0 0 142.93,191.80Z" fill="#f01c1c"/><circle cx="142.93" cy="188.00" r="3.80" fill="none" stroke="#f01c1c" stroke-width="0.6"/><circle cx="147.20" cy="171.20" r="3.80" fill="#fff"/><path d="M147.20,167.40A3.80,3.80 0 0 0 147.20,175.00Z" fill="#f01c1c"/><circle cx="147.20" cy="171.20" r="3.80" fill="none" stroke="#f01c1c" stroke-width="0.6"/><circle cx="151.47" cy="152.60" r="3.80" fill="#fff"/><path d="M151.47,148.80A3.80,3.80 0 0 0 151.47,156.40Z" fill="#f01c1c"/><circle cx="151.47" cy="152.60" r="3.80" fill="none" stroke="#f01c1c" stroke-width="0.6"/><circle cx="155.74" cy="135.30" r="3.80" fill="#fff"/><path d="M155.74,131.50A3.80,3.80 0 0 0 155.74,139.10Z" fill="#f01c1c"/><circle cx="155.74" cy="135.30" r="3.80" fill="none" stroke="#f01c1c" stroke-width="0.6"/><circle cx="160.01" cy="116.20" r="3.80" fill="#fff"/><path d="M160.01,112.40A3.80,3.80 0 0 0 160.01,120.00Z" fill="#f01c1c"/><circle cx="160.01" cy="116.20" r="3.80" fill="none" stroke="#f01c1c" stroke-width="0.6"/><circle cx="164.28" cy="101.80" r="3.80" fill="#fff"/><path d="M164.28,98.00A3.80,3.80 0 0 0 164.28,105.60Z" fill="#f01c1c"/><circle cx="164.28" cy="101.80" r="3.80" fill="none" stroke="#f01c1c" stroke-width="0.6"/><circle cx="168.55" cy="90.00" r="3.80" fill="#fff"/><path d="M168.55,86.20A3.80,3.80 0 0 0 168.55,93.80Z" fill="#f01c1c"/><circle cx="168.55" cy="90.00" r="3.80" fill="none" stroke="#f01c1c" stroke-width="0.6"/><circle cx="172.82" cy="80.00" r="3.80" fill="#fff"/><path d="M172.82,76.20A3.80,3.80 0 0 0 172.82,83.80Z" fill="#f01c1c"/><circle cx="172.82" cy="80.00" r="3.80" fill="none" stroke="#f01c1c" stroke-width="0.6"/><circle cx="177.09" cy="75.00" r="3.80" fill="#fff"/><path d="M177.09,71.20A3.80,3.80 0 0 0 177.09,78.80Z" fill="#f01c1c"/><circle cx="177.09" cy="75.00" r="3.80" fill="none" stroke="#f01c1c" stroke-width="0.6"/><circle cx="181.36" cy="74.30" r="3.80" fill="#fff"/><path d="M181.36,70.50A3.80,3.80 0 0 0 181.36,78.10Z" fill="#f01c1c"/><circle cx="181.36" cy="74.30" r="3.80" fill="none" stroke="#f01c1c" stroke-width="0.6"/><circle cx="185.63" cy="72.00" r="3.80" fill="#fff"/><path d="M185.63,68.20A3.80,3.80 0 0 0 185.63,75.80Z" fill="#f01c1c"/><circle cx="185.63" cy="72.00" r="3.80" fill="none" stroke="#f01c1c" stroke-width="0.6"/><circle cx="189.90" cy="68.90" r="3.80" fill="#fff"/><path d="M189.90,65.10A3.80,3.80 0 0 0 189.90,72.70Z" fill="#f01c1c"/><circle cx="189.90" cy="68.90" r="3.80" fill="none" stroke="#f01c1c" stroke-width="0.6"/><circle cx="194.17" cy="62.90" r="3.80" fill="#fff"/><path d="M194.17,59.10A3.80,3.80 0 0 0 194.17,66.70Z" fill="#f01c1c"/><circle cx="194.17" cy="62.90" r="3.80" fill="none" stroke="#f01c1c" stroke-width="0.6"/><circle cx="198.44" cy="50.80" r="3.80" fill="#fff"/><path d="M198.44,47.00A3.80,3.80 0 0 0 198.44,54.60Z" fill="#f01c1c"/><circle cx="198.44" cy="50.80" r="3.80" fill="none" stroke="#f01c1c" stroke-width="0.6"/><circle cx="202.71" cy="44.70" r="3.80" fill="#fff"/><path d="M202.71,40.90A3.80,3.80 0 0 0 202.71,48.50Z" fill="#f01c1c"/><circle cx="202.71" cy="44.70" r="3.80" fill="none" stroke="#f01c1c" stroke-width="0.6"/><circle cx="206.98" cy="44.62" r="3.80" fill="#fff"/><path d="M206.98,40.82A3.80,3.80 0 0 0 206.98,48.42Z" fill="#f01c1c"/><circle cx="206.98" cy="44.62" r="3.80" fill="none" stroke="#f01c1c" stroke-width="0.6"/><circle cx="211.25" cy="48.57" r="3.80" fill="#fff"/><path d="M211.25,44.77A3.80,3.80 0 0 0 211.25,52.37Z" fill="#f01c1c"/><circle cx="211.25" cy="48.57" r="3.80" fill="none" stroke="#f01c1c" stroke-width="0.6"/><circle cx="215.52" cy="54.26" r="3.80" fill="#fff"/><path d="M215.52,50.46A3.80,3.80 0 0 0 215.52,58.06Z" fill="#f01c1c"/><circle cx="215.52" cy="54.26" r="3.80" fill="none" stroke="#f01c1c" stroke-width="0.6"/><circle cx="219.79" cy="61.02" r="3.80" fill="#fff"/><path d="M219.79,57.22A3.80,3.80 0 0 0 219.79,64.82Z" fill="#f01c1c"/><circle cx="219.79" cy="61.02" r="3.80" fill="none" stroke="#f01c1c" stroke-width="0.6"/><circle cx="224.06" cy="67.93" r="3.80" fill="#fff"/><path d="M224.06,64.13A3.80,3.80 0 0 0 224.06,71.73Z" fill="#f01c1c"/><circle cx="224.06" cy="67.93" r="3.80" fill="none" stroke="#f01c1c" stroke-width="0.6"/><circle cx="228.33" cy="74.30" r="3.80" fill="#fff"/><path d="M228.33,70.50A3.80,3.80 0 0 0 228.33,78.10Z" fill="#f01c1c"/><circle cx="228.33" cy="74.30" r="3.80" fill="none" stroke="#f01c1c" stroke-width="0.6"/><circle cx="232.60" cy="80.13" r="3.80" fill="#fff"/><path d="M232.60,76.33A3.80,3.80 0 0 0 232.60,83.93Z" fill="#f01c1c"/><circle cx="232.60" cy="80.13" r="3.80" fill="none" stroke="#f01c1c" stroke-width="0.6"/><circle cx="236.87" cy="86.14" r="3.80" fill="#fff"/><path d="M236.87,82.34A3.80,3.80 0 0 0 236.87,89.94Z" fill="#f01c1c"/><circle cx="236.87" cy="86.14" r="3.80" fill="none" stroke="#f01c1c" stroke-width="0.6"/><circle cx="241.14" cy="92.82" r="3.80" fill="#fff"/><path d="M241.14,89.02A3.80,3.80 0 0 0 241.14,96.62Z" fill="#f01c1c"/><circle cx="241.14" cy="92.82" r="3.80" fill="none" stroke="#f01c1c" stroke-width="0.6"/><circle cx="245.41" cy="98.55" r="3.80" fill="#fff"/><path d="M245.41,94.75A3.80,3.80 0 0 0 245.41,102.35Z" fill="#f01c1c"/><circle cx="245.41" cy="98.55" r="3.80" fill="none" stroke="#f01c1c" stroke-width="0.6"/><circle cx="249.68" cy="102.81" r="3.80" fill="#fff"/><path d="M249.68,99.01A3.80,3.80 0 0 0 249.68,106.61Z" fill="#f01c1c"/><circle cx="249.68" cy="102.81" r="3.80" fill="none" stroke="#f01c1c" stroke-width="0.6"/><circle cx="253.95" cy="107.07" r="3.80" fill="#fff"/><path d="M253.95,103.27A3.80,3.80 0 0 0 253.95,110.87Z" fill="#f01c1c"/><circle cx="253.95" cy="107.07" r="3.80" fill="none" stroke="#f01c1c" stroke-width="0.6"/><circle cx="258.22" cy="111.32" r="3.80" fill="#fff"/><path d="M258.22,107.52A3.80,3.80 0 0 0 258.22,115.12Z" fill="#f01c1c"/><circle cx="258.22" cy="111.32" r="3.80" fill="none" stroke="#f01c1c" stroke-width="0.6"/><circle cx="262.49" cy="116.38" r="3.80" fill="#fff"/><path d="M262.49,112.58A3.80,3.80 0 0 0 262.49,120.18Z" fill="#f01c1c"/><circle cx="262.49" cy="116.38" r="3.80" fill="none" stroke="#f01c1c" stroke-width="0.6"/><circle cx="266.76" cy="121.57" r="3.80" fill="#fff"/><path d="M266.76,117.77A3.80,3.80 0 0 0 266.76,125.37Z" fill="#f01c1c"/><circle cx="266.76" cy="121.57" r="3.80" fill="none" stroke="#f01c1c" stroke-width="0.6"/><circle cx="271.03" cy="127.93" r="3.80" fill="#fff"/><path d="M271.03,124.13A3.80,3.80 0 0 0 271.03,131.73Z" fill="#f01c1c"/><circle cx="271.03" cy="127.93" r="3.80" fill="none" stroke="#f01c1c" stroke-width="0.6"/><circle cx="275.30" cy="132.30" r="3.80" fill="#fff"/><path d="M275.30,128.50A3.80,3.80 0 0 0 275.30,136.10Z" fill="#f01c1c"/><circle cx="275.30" cy="132.30" r="3.80" fill="none" stroke="#f01c1c" stroke-width="0.6"/><circle cx="279.57" cy="135.77" r="3.80" fill="#fff"/><path d="M279.57,131.97A3.80,3.80 0 0 0 279.57,139.57Z" fill="#f01c1c"/><circle cx="279.57" cy="135.77" r="3.80" fill="none" stroke="#f01c1c" stroke-width="0.6"/><circle cx="283.84" cy="139.77" r="3.80" fill="#fff"/><path d="M283.84,135.97A3.80,3.80 0 0 0 283.84,143.57Z" fill="#f01c1c"/><circle cx="283.84" cy="139.77" r="3.80" fill="none" stroke="#f01c1c" stroke-width="0.6"/><circle cx="288.11" cy="144.07" r="3.80" fill="#fff"/><path d="M288.11,140.27A3.80,3.80 0 0 0 288.11,147.87Z" fill="#f01c1c"/><circle cx="288.11" cy="144.07" r="3.80" fill="none" stroke="#f01c1c" stroke-width="0.6"/><circle cx="292.38" cy="148.38" r="3.80" fill="#fff"/><path d="M292.38,144.58A3.80,3.80 0 0 0 292.38,152.18Z" fill="#f01c1c"/><circle cx="292.38" cy="148.38" r="3.80" fill="none" stroke="#f01c1c" stroke-width="0.6"/><circle cx="296.65" cy="152.14" r="3.80" fill="#fff"/><path d="M296.65,148.34A3.80,3.80 0 0 0 296.65,155.94Z" fill="#f01c1c"/><circle cx="296.65" cy="152.14" r="3.80" fill="none" stroke="#f01c1c" stroke-width="0.6"/><circle cx="300.92" cy="156.75" r="3.80" fill="#fff"/><path d="M300.92,152.95A3.80,3.80 0 0 0 300.92,160.55Z" fill="#f01c1c"/><circle cx="300.92" cy="156.75" r="3.80" fill="none" stroke="#f01c1c" stroke-width="0.6"/><circle cx="305.19" cy="162.49" r="3.80" fill="#fff"/><path d="M305.19,158.69A3.80,3.80 0 0 0 305.19,166.29Z" fill="#f01c1c"/><circle cx="305.19" cy="162.49" r="3.80" fill="none" stroke="#f01c1c" stroke-width="0.6"/><circle cx="309.46" cy="166.53" r="3.80" fill="#fff"/><path d="M309.46,162.73A3.80,3.80 0 0 0 309.46,170.33Z" fill="#f01c1c"/><circle cx="309.46" cy="166.53" r="3.80" fill="none" stroke="#f01c1c" stroke-width="0.6"/><circle cx="313.73" cy="169.92" r="3.80" fill="#fff"/><path d="M313.73,166.12A3.80,3.80 0 0 0 313.73,173.72Z" fill="#f01c1c"/><circle cx="313.73" cy="169.92" r="3.80" fill="none" stroke="#f01c1c" stroke-width="0.6"/><circle cx="318.00" cy="174.08" r="3.80" fill="#fff"/><path d="M318.00,170.28A3.80,3.80 0 0 0 318.00,177.88Z" fill="#f01c1c"/><circle cx="318.00" cy="174.08" r="3.80" fill="none" stroke="#f01c1c" stroke-width="0.6"/><circle cx="322.27" cy="177.94" r="3.80" fill="#fff"/><path d="M322.27,174.14A3.80,3.80 0 0 0 322.27,181.74Z" fill="#f01c1c"/><circle cx="322.27" cy="177.94" r="3.80" fill="none" stroke="#f01c1c" stroke-width="0.6"/><circle cx="326.54" cy="181.50" r="3.80" fill="#fff"/><path d="M326.54,177.70A3.80,3.80 0 0 0 326.54,185.30Z" fill="#f01c1c"/><circle cx="326.54" cy="181.50" r="3.80" fill="none" stroke="#f01c1c" stroke-width="0.6"/><circle cx="330.81" cy="185.06" r="3.80" fill="#fff"/><path d="M330.81,181.26A3.80,3.80 0 0 0 330.81,188.86Z" fill="#f01c1c"/><circle cx="330.81" cy="185.06" r="3.80" fill="none" stroke="#f01c1c" stroke-width="0.6"/><circle cx="335.08" cy="188.49" r="3.80" fill="#fff"/><path d="M335.08,184.69A3.80,3.80 0 0 0 335.08,192.29Z" fill="#f01c1c"/><circle cx="335.08" cy="188.49" r="3.80" fill="none" stroke="#f01c1c" stroke-width="0.6"/><circle cx="339.35" cy="190.78" r="3.80" fill="#fff"/><path d="M339.35,186.98A3.80,3.80 0 0 0 339.35,194.58Z" fill="#f01c1c"/><circle cx="339.35" cy="190.78" r="3.80" fill="none" stroke="#f01c1c" stroke-width="0.6"/><circle cx="343.62" cy="194.33" r="3.80" fill="#fff"/><path d="M343.62,190.53A3.80,3.80 0 0 0 343.62,198.13Z" fill="#f01c1c"/><circle cx="343.62" cy="194.33" r="3.80" fill="none" stroke="#f01c1c" stroke-width="0.6"/><circle cx="347.89" cy="197.89" r="3.80" fill="#fff"/><path d="M347.89,194.09A3.80,3.80 0 0 0 347.89,201.69Z" fill="#f01c1c"/><circle cx="347.89" cy="197.89" r="3.80" fill="none" stroke="#f01c1c" stroke-width="0.6"/><circle cx="352.16" cy="201.56" r="3.80" fill="#fff"/><path d="M352.16,197.76A3.80,3.80 0 0 0 352.16,205.36Z" fill="#f01c1c"/><circle cx="352.16" cy="201.56" r="3.80" fill="none" stroke="#f01c1c" stroke-width="0.6"/><circle cx="356.43" cy="205.71" r="3.80" fill="#fff"/><path d="M356.43,201.91A3.80,3.80 0 0 0 356.43,209.51Z" fill="#f01c1c"/><circle cx="356.43" cy="205.71" r="3.80" fill="none" stroke="#f01c1c" stroke-width="0.6"/><circle cx="360.70" cy="208.40" r="3.80" fill="#fff"/><path d="M360.70,204.60A3.80,3.80 0 0 0 360.70,212.20Z" fill="#f01c1c"/><circle cx="360.70" cy="208.40" r="3.80" fill="none" stroke="#f01c1c" stroke-width="0.6"/><circle cx="364.97" cy="214.00" r="3.80" fill="#fff"/><path d="M364.97,210.20A3.80,3.80 0 0 0 364.97,217.80Z" fill="#f01c1c"/><circle cx="364.97" cy="214.00" r="3.80" fill="none" stroke="#f01c1c" stroke-width="0.6"/><circle cx="369.24" cy="220.50" r="3.80" fill="#fff"/><path d="M369.24,216.70A3.80,3.80 0 0 0 369.24,224.30Z" fill="#f01c1c"/><circle cx="369.24" cy="220.50" r="3.80" fill="none" stroke="#f01c1c" stroke-width="0.6"/><circle cx="373.51" cy="232.10" r="3.80" fill="#fff"/><path d="M373.51,228.30A3.80,3.80 0 0 0 373.51,235.90Z" fill="#f01c1c"/><circle cx="373.51" cy="232.10" r="3.80" fill="none" stroke="#f01c1c" stroke-width="0.6"/><circle cx="377.78" cy="242.00" r="3.80" fill="#fff"/><path d="M377.78,238.20A3.80,3.80 0 0 0 377.78,245.80Z" fill="#f01c1c"/><circle cx="377.78" cy="242.00" r="3.80" fill="none" stroke="#f01c1c" stroke-width="0.6"/><circle cx="382.05" cy="266.20" r="3.80" fill="#fff"/><path d="M382.05,262.40A3.80,3.80 0 0 0 382.05,270.00Z" fill="#f01c1c"/><circle cx="382.05" cy="266.20" r="3.80" fill="none" stroke="#f01c1c" stroke-width="0.6"/><circle cx="386.32" cy="291.50" r="3.80" fill="#fff"/><path d="M386.32,287.70A3.80,3.80 0 0 0 386.32,295.30Z" fill="#f01c1c"/><circle cx="386.32" cy="291.50" r="3.80" fill="none" stroke="#f01c1c" stroke-width="0.6"/><circle cx="390.59" cy="321.10" r="3.80" fill="#fff"/><path d="M390.59,317.30A3.80,3.80 0 0 0 390.59,324.90Z" fill="#f01c1c"/><circle cx="390.59" cy="321.10" r="3.80" fill="none" stroke="#f01c1c" stroke-width="0.6"/><circle cx="394.86" cy="345.00" r="3.80" fill="#fff"/><path d="M394.86,341.20A3.80,3.80 0 0 0 394.86,348.80Z" fill="#f01c1c"/><circle cx="394.86" cy="345.00" r="3.80" fill="none" stroke="#f01c1c" stroke-width="0.6"/><circle cx="399.13" cy="353.60" r="3.80" fill="#fff"/><path d="M399.13,349.80A3.80,3.80 0 0 0 399.13,357.40Z" fill="#f01c1c"/><circle cx="399.13" cy="353.60" r="3.80" fill="none" stroke="#f01c1c" stroke-width="0.6"/><circle cx="403.40" cy="353.60" r="3.80" fill="#fff"/><path d="M403.40,349.80A3.80,3.80 0 0 0 403.40,357.40Z" fill="#f01c1c"/><circle cx="403.40" cy="353.60" r="3.80" fill="none" stroke="#f01c1c" stroke-width="0.6"/><circle cx="407.67" cy="353.60" r="3.80" fill="#fff"/><path d="M407.67,349.80A3.80,3.80 0 0 0 407.67,357.40Z" fill="#f01c1c"/><circle cx="407.67" cy="353.60" r="3.80" fill="none" stroke="#f01c1c" stroke-width="0.6"/><circle cx="411.94" cy="353.60" r="3.80" fill="#fff"/><path d="M411.94,349.80A3.80,3.80 0 0 0 411.94,357.40Z" fill="#f01c1c"/><circle cx="411.94" cy="353.60" r="3.80" fill="none" stroke="#f01c1c" stroke-width="0.6"/><circle cx="416.21" cy="353.60" r="3.80" fill="#fff"/><path d="M416.21,349.80A3.80,3.80 0 0 0 416.21,357.40Z" fill="#f01c1c"/><circle cx="416.21" cy="353.60" r="3.80" fill="none" stroke="#f01c1c" stroke-width="0.6"/><circle cx="420.48" cy="353.60" r="3.80" fill="#fff"/><path d="M420.48,349.80A3.80,3.80 0 0 0 420.48,357.40Z" fill="#f01c1c"/><circle cx="420.48" cy="353.60" r="3.80" fill="none" stroke="#f01c1c" stroke-width="0.6"/><polyline points="113.04,354.90 117.31,344.30 121.58,320.30 125.85,287.00 130.12,259.50 134.39,234.00 138.66,205.70 142.93,184.30 147.20,167.10 151.47,148.10 155.74,130.50 160.01,111.00 164.28,96.20 168.55,84.20 172.82,73.00 177.09,68.10 181.36,65.50 185.63,63.60 189.90,61.40 194.17,56.80 198.44,45.00 202.71,36.00 206.98,36.69 211.25,39.87 215.52,44.20 219.79,50.62 224.06,57.35 228.33,63.04 232.60,68.68 236.87,74.37 241.14,80.19 245.41,85.30 249.68,89.29 253.95,93.27 258.22,97.26 262.49,100.96 266.76,104.61 271.03,108.26 275.30,111.92 279.57,115.14 283.84,117.91 288.11,120.69 292.38,123.46 296.65,126.11 300.92,127.40 305.19,128.70 309.46,129.97 313.73,131.04 318.00,132.11 322.27,133.19 326.54,134.26 330.81,135.49 335.08,136.76 339.35,138.03 343.62,139.30 347.89,140.56 352.16,141.79 356.43,143.03 360.70,144.26 364.97,145.49 369.24,146.23 373.51,148.55 377.78,150.44 382.05,152.72 386.32,154.51 390.59,157.07 394.86,161.00 399.13,166.70 403.40,191.20 407.67,228.00 411.94,262.30 416.21,292.60 420.48,329.60 424.75,353.60 429.02,353.60 433.29,353.60 437.56,353.60 441.83,353.60 446.10,353.60 450.37,353.60 454.64,353.60 458.91,353.60" fill="none" stroke="#55ea2c" stroke-width="3.3" stroke-linejoin="round" mask="url(#mg)"/><circle cx="113.04" cy="354.90" r="3.80" fill="#fff"/><path d="M109.24,354.90A3.80,3.80 0 0 0 116.84,354.90Z" fill="#55ea2c"/><circle cx="113.04" cy="354.90" r="3.80" fill="none" stroke="#55ea2c" stroke-width="0.6"/><circle cx="117.31" cy="344.30" r="3.80" fill="#fff"/><path d="M113.51,344.30A3.80,3.80 0 0 0 121.11,344.30Z" fill="#55ea2c"/><circle cx="117.31" cy="344.30" r="3.80" fill="none" stroke="#55ea2c" stroke-width="0.6"/><circle cx="121.58" cy="320.30" r="3.80" fill="#fff"/><path d="M117.78,320.30A3.80,3.80 0 0 0 125.38,320.30Z" fill="#55ea2c"/><circle cx="121.58" cy="320.30" r="3.80" fill="none" stroke="#55ea2c" stroke-width="0.6"/><circle cx="125.85" cy="287.00" r="3.80" fill="#fff"/><path d="M122.05,287.00A3.80,3.80 0 0 0 129.65,287.00Z" fill="#55ea2c"/><circle cx="125.85" cy="287.00" r="3.80" fill="none" stroke="#55ea2c" stroke-width="0.6"/><circle cx="130.12" cy="259.50" r="3.80" fill="#fff"/><path d="M126.32,259.50A3.80,3.80 0 0 0 133.92,259.50Z" fill="#55ea2c"/><circle cx="130.12" cy="259.50" r="3.80" fill="none" stroke="#55ea2c" stroke-width="0.6"/><circle cx="134.39" cy="234.00" r="3.80" fill="#fff"/><path d="M130.59,234.00A3.80,3.80 0 0 0 138.19,234.00Z" fill="#55ea2c"/><circle cx="134.39" cy="234.00" r="3.80" fill="none" stroke="#55ea2c" stroke-width="0.6"/><circle cx="138.66" cy="205.70" r="3.80" fill="#fff"/><path d="M134.86,205.70A3.80,3.80 0 0 0 142.46,205.70Z" fill="#55ea2c"/><circle cx="138.66" cy="205.70" r="3.80" fill="none" stroke="#55ea2c" stroke-width="0.6"/><circle cx="142.93" cy="184.30" r="3.80" fill="#fff"/><path d="M139.13,184.30A3.80,3.80 0 0 0 146.73,184.30Z" fill="#55ea2c"/><circle cx="142.93" cy="184.30" r="3.80" fill="none" stroke="#55ea2c" stroke-width="0.6"/><circle cx="147.20" cy="167.10" r="3.80" fill="#fff"/><path d="M143.40,167.10A3.80,3.80 0 0 0 151.00,167.10Z" fill="#55ea2c"/><circle cx="147.20" cy="167.10" r="3.80" fill="none" stroke="#55ea2c" stroke-width="0.6"/><circle cx="151.47" cy="148.10" r="3.80" fill="#fff"/><path d="M147.67,148.10A3.80,3.80 0 0 0 155.27,148.10Z" fill="#55ea2c"/><circle cx="151.47" cy="148.10" r="3.80" fill="none" stroke="#55ea2c" stroke-width="0.6"/><circle cx="155.74" cy="130.50" r="3.80" fill="#fff"/><path d="M151.94,130.50A3.80,3.80 0 0 0 159.54,130.50Z" fill="#55ea2c"/><circle cx="155.74" cy="130.50" r="3.80" fill="none" stroke="#55ea2c" stroke-width="0.6"/><circle cx="160.01" cy="111.00" r="3.80" fill="#fff"/><path d="M156.21,111.00A3.80,3.80 0 0 0 163.81,111.00Z" fill="#55ea2c"/><circle cx="160.01" cy="111.00" r="3.80" fill="none" stroke="#55ea2c" stroke-width="0.6"/><circle cx="164.28" cy="96.20" r="3.80" fill="#fff"/><path d="M160.48,96.20A3.80,3.80 0 0 0 168.08,96.20Z" fill="#55ea2c"/><circle cx="164.28" cy="96.20" r="3.80" fill="none" stroke="#55ea2c" stroke-width="0.6"/><circle cx="168.55" cy="84.20" r="3.80" fill="#fff"/><path d="M164.75,84.20A3.80,3.80 0 0 0 172.35,84.20Z" fill="#55ea2c"/><circle cx="168.55" cy="84.20" r="3.80" fill="none" stroke="#55ea2c" stroke-width="0.6"/><circle cx="172.82" cy="73.00" r="3.80" fill="#fff"/><path d="M169.02,73.00A3.80,3.80 0 0 0 176.62,73.00Z" fill="#55ea2c"/><circle cx="172.82" cy="73.00" r="3.80" fill="none" stroke="#55ea2c" stroke-width="0.6"/><circle cx="177.09" cy="68.10" r="3.80" fill="#fff"/><path d="M173.29,68.10A3.80,3.80 0 0 0 180.89,68.10Z" fill="#55ea2c"/><circle cx="177.09" cy="68.10" r="3.80" fill="none" stroke="#55ea2c" stroke-width="0.6"/><circle cx="181.36" cy="65.50" r="3.80" fill="#fff"/><path d="M177.56,65.50A3.80,3.80 0 0 0 185.16,65.50Z" fill="#55ea2c"/><circle cx="181.36" cy="65.50" r="3.80" fill="none" stroke="#55ea2c" stroke-width="0.6"/><circle cx="185.63" cy="63.60" r="3.80" fill="#fff"/><path d="M181.83,63.60A3.80,3.80 0 0 0 189.43,63.60Z" fill="#55ea2c"/><circle cx="185.63" cy="63.60" r="3.80" fill="none" stroke="#55ea2c" stroke-width="0.6"/><circle cx="189.90" cy="61.40" r="3.80" fill="#fff"/><path d="M186.10,61.40A3.80,3.80 0 0 0 193.70,61.40Z" fill="#55ea2c"/><circle cx="189.90" cy="61.40" r="3.80" fill="none" stroke="#55ea2c" stroke-width="0.6"/><circle cx="194.17" cy="56.80" r="3.80" fill="#fff"/><path d="M190.37,56.80A3.80,3.80 0 0 0 197.97,56.80Z" fill="#55ea2c"/><circle cx="194.17" cy="56.80" r="3.80" fill="none" stroke="#55ea2c" stroke-width="0.6"/><circle cx="198.44" cy="45.00" r="3.80" fill="#fff"/><path d="M194.64,45.00A3.80,3.80 0 0 0 202.24,45.00Z" fill="#55ea2c"/><circle cx="198.44" cy="45.00" r="3.80" fill="none" stroke="#55ea2c" stroke-width="0.6"/><circle cx="202.71" cy="36.00" r="3.80" fill="#fff"/><path d="M198.91,36.00A3.80,3.80 0 0 0 206.51,36.00Z" fill="#55ea2c"/><circle cx="202.71" cy="36.00" r="3.80" fill="none" stroke="#55ea2c" stroke-width="0.6"/><circle cx="206.98" cy="36.69" r="3.80" fill="#fff"/><path d="M203.18,36.69A3.80,3.80 0 0 0 210.78,36.69Z" fill="#55ea2c"/><circle cx="206.98" cy="36.69" r="3.80" fill="none" stroke="#55ea2c" stroke-width="0.6"/><circle cx="211.25" cy="39.87" r="3.80" fill="#fff"/><path d="M207.45,39.87A3.80,3.80 0 0 0 215.05,39.87Z" fill="#55ea2c"/><circle cx="211.25" cy="39.87" r="3.80" fill="none" stroke="#55ea2c" stroke-width="0.6"/><circle cx="215.52" cy="44.20" r="3.80" fill="#fff"/><path d="M211.72,44.20A3.80,3.80 0 0 0 219.32,44.20Z" fill="#55ea2c"/><circle cx="215.52" cy="44.20" r="3.80" fill="none" stroke="#55ea2c" stroke-width="0.6"/><circle cx="219.79" cy="50.62" r="3.80" fill="#fff"/><path d="M215.99,50.62A3.80,3.80 0 0 0 223.59,50.62Z" fill="#55ea2c"/><circle cx="219.79" cy="50.62" r="3.80" fill="none" stroke="#55ea2c" stroke-width="0.6"/><circle cx="224.06" cy="57.35" r="3.80" fill="#fff"/><path d="M220.26,57.35A3.80,3.80 0 0 0 227.86,57.35Z" fill="#55ea2c"/><circle cx="224.06" cy="57.35" r="3.80" fill="none" stroke="#55ea2c" stroke-width="0.6"/><circle cx="228.33" cy="63.04" r="3.80" fill="#fff"/><path d="M224.53,63.04A3.80,3.80 0 0 0 232.13,63.04Z" fill="#55ea2c"/><circle cx="228.33" cy="63.04" r="3.80" fill="none" stroke="#55ea2c" stroke-width="0.6"/><circle cx="232.60" cy="68.68" r="3.80" fill="#fff"/><path d="M228.80,68.68A3.80,3.80 0 0 0 236.40,68.68Z" fill="#55ea2c"/><circle cx="232.60" cy="68.68" r="3.80" fill="none" stroke="#55ea2c" stroke-width="0.6"/><circle cx="236.87" cy="74.37" r="3.80" fill="#fff"/><path d="M233.07,74.37A3.80,3.80 0 0 0 240.67,74.37Z" fill="#55ea2c"/><circle cx="236.87" cy="74.37" r="3.80" fill="none" stroke="#55ea2c" stroke-width="0.6"/><circle cx="241.14" cy="80.19" r="3.80" fill="#fff"/><path d="M237.34,80.19A3.80,3.80 0 0 0 244.94,80.19Z" fill="#55ea2c"/><circle cx="241.14" cy="80.19" r="3.80" fill="none" stroke="#55ea2c" stroke-width="0.6"/><circle cx="245.41" cy="85.30" r="3.80" fill="#fff"/><path d="M241.61,85.30A3.80,3.80 0 0 0 249.21,85.30Z" fill="#55ea2c"/><circle cx="245.41" cy="85.30" r="3.80" fill="none" stroke="#55ea2c" stroke-width="0.6"/><circle cx="249.68" cy="89.29" r="3.80" fill="#fff"/><path d="M245.88,89.29A3.80,3.80 0 0 0 253.48,89.29Z" fill="#55ea2c"/><circle cx="249.68" cy="89.29" r="3.80" fill="none" stroke="#55ea2c" stroke-width="0.6"/><circle cx="253.95" cy="93.27" r="3.80" fill="#fff"/><path d="M250.15,93.27A3.80,3.80 0 0 0 257.75,93.27Z" fill="#55ea2c"/><circle cx="253.95" cy="93.27" r="3.80" fill="none" stroke="#55ea2c" stroke-width="0.6"/><circle cx="258.22" cy="97.26" r="3.80" fill="#fff"/><path d="M254.42,97.26A3.80,3.80 0 0 0 262.02,97.26Z" fill="#55ea2c"/><circle cx="258.22" cy="97.26" r="3.80" fill="none" stroke="#55ea2c" stroke-width="0.6"/><circle cx="262.49" cy="100.96" r="3.80" fill="#fff"/><path d="M258.69,100.96A3.80,3.80 0 0 0 266.29,100.96Z" fill="#55ea2c"/><circle cx="262.49" cy="100.96" r="3.80" fill="none" stroke="#55ea2c" stroke-width="0.6"/><circle cx="266.76" cy="104.61" r="3.80" fill="#fff"/><path d="M262.96,104.61A3.80,3.80 0 0 0 270.56,104.61Z" fill="#55ea2c"/><circle cx="266.76" cy="104.61" r="3.80" fill="none" stroke="#55ea2c" stroke-width="0.6"/><circle cx="271.03" cy="108.26" r="3.80" fill="#fff"/><path d="M267.23,108.26A3.80,3.80 0 0 0 274.83,108.26Z" fill="#55ea2c"/><circle cx="271.03" cy="108.26" r="3.80" fill="none" stroke="#55ea2c" stroke-width="0.6"/><circle cx="275.30" cy="111.92" r="3.80" fill="#fff"/><path d="M271.50,111.92A3.80,3.80 0 0 0 279.10,111.92Z" fill="#55ea2c"/><circle cx="275.30" cy="111.92" r="3.80" fill="none" stroke="#55ea2c" stroke-width="0.6"/><circle cx="279.57" cy="115.14" r="3.80" fill="#fff"/><path d="M275.77,115.14A3.80,3.80 0 0 0 283.37,115.14Z" fill="#55ea2c"/><circle cx="279.57" cy="115.14" r="3.80" fill="none" stroke="#55ea2c" stroke-width="0.6"/><circle cx="283.84" cy="117.91" r="3.80" fill="#fff"/><path d="M280.04,117.91A3.80,3.80 0 0 0 287.64,117.91Z" fill="#55ea2c"/><circle cx="283.84" cy="117.91" r="3.80" fill="none" stroke="#55ea2c" stroke-width="0.6"/><circle cx="288.11" cy="120.69" r="3.80" fill="#fff"/><path d="M284.31,120.69A3.80,3.80 0 0 0 291.91,120.69Z" fill="#55ea2c"/><circle cx="288.11" cy="120.69" r="3.80" fill="none" stroke="#55ea2c" stroke-width="0.6"/><circle cx="292.38" cy="123.46" r="3.80" fill="#fff"/><path d="M288.58,123.46A3.80,3.80 0 0 0 296.18,123.46Z" fill="#55ea2c"/><circle cx="292.38" cy="123.46" r="3.80" fill="none" stroke="#55ea2c" stroke-width="0.6"/><circle cx="296.65" cy="126.11" r="3.80" fill="#fff"/><path d="M292.85,126.11A3.80,3.80 0 0 0 300.45,126.11Z" fill="#55ea2c"/><circle cx="296.65" cy="126.11" r="3.80" fill="none" stroke="#55ea2c" stroke-width="0.6"/><circle cx="300.92" cy="127.40" r="3.80" fill="#fff"/><path d="M297.12,127.40A3.80,3.80 0 0 0 304.72,127.40Z" fill="#55ea2c"/><circle cx="300.92" cy="127.40" r="3.80" fill="none" stroke="#55ea2c" stroke-width="0.6"/><circle cx="305.19" cy="128.70" r="3.80" fill="#fff"/><path d="M301.39,128.70A3.80,3.80 0 0 0 308.99,128.70Z" fill="#55ea2c"/><circle cx="305.19" cy="128.70" r="3.80" fill="none" stroke="#55ea2c" stroke-width="0.6"/><circle cx="309.46" cy="129.97" r="3.80" fill="#fff"/><path d="M305.66,129.97A3.80,3.80 0 0 0 313.26,129.97Z" fill="#55ea2c"/><circle cx="309.46" cy="129.97" r="3.80" fill="none" stroke="#55ea2c" stroke-width="0.6"/><circle cx="313.73" cy="131.04" r="3.80" fill="#fff"/><path d="M309.93,131.04A3.80,3.80 0 0 0 317.53,131.04Z" fill="#55ea2c"/><circle cx="313.73" cy="131.04" r="3.80" fill="none" stroke="#55ea2c" stroke-width="0.6"/><circle cx="318.00" cy="132.11" r="3.80" fill="#fff"/><path d="M314.20,132.11A3.80,3.80 0 0 0 321.80,132.11Z" fill="#55ea2c"/><circle cx="318.00" cy="132.11" r="3.80" fill="none" stroke="#55ea2c" stroke-width="0.6"/><circle cx="322.27" cy="133.19" r="3.80" fill="#fff"/><path d="M318.47,133.19A3.80,3.80 0 0 0 326.07,133.19Z" fill="#55ea2c"/><circle cx="322.27" cy="133.19" r="3.80" fill="none" stroke="#55ea2c" stroke-width="0.6"/><circle cx="326.54" cy="134.26" r="3.80" fill="#fff"/><path d="M322.74,134.26A3.80,3.80 0 0 0 330.34,134.26Z" fill="#55ea2c"/><circle cx="326.54" cy="134.26" r="3.80" fill="none" stroke="#55ea2c" stroke-width="0.6"/><circle cx="330.81" cy="135.49" r="3.80" fill="#fff"/><path d="M327.01,135.49A3.80,3.80 0 0 0 334.61,135.49Z" fill="#55ea2c"/><circle cx="330.81" cy="135.49" r="3.80" fill="none" stroke="#55ea2c" stroke-width="0.6"/><circle cx="335.08" cy="136.76" r="3.80" fill="#fff"/><path d="M331.28,136.76A3.80,3.80 0 0 0 338.88,136.76Z" fill="#55ea2c"/><circle cx="335.08" cy="136.76" r="3.80" fill="none" stroke="#55ea2c" stroke-width="0.6"/><circle cx="339.35" cy="138.03" r="3.80" fill="#fff"/><path d="M335.55,138.03A3.80,3.80 0 0 0 343.15,138.03Z" fill="#55ea2c"/><circle cx="339.35" cy="138.03" r="3.80" fill="none" stroke="#55ea2c" stroke-width="0.6"/><circle cx="343.62" cy="139.30" r="3.80" fill="#fff"/><path d="M339.82,139.30A3.80,3.80 0 0 0 347.42,139.30Z" fill="#55ea2c"/><circle cx="343.62" cy="139.30" r="3.80" fill="none" stroke="#55ea2c" stroke-width="0.6"/><circle cx="347.89" cy="140.56" r="3.80" fill="#fff"/><path d="M344.09,140.56A3.80,3.80 0 0 0 351.69,140.56Z" fill="#55ea2c"/><circle cx="347.89" cy="140.56" r="3.80" fill="none" stroke="#55ea2c" stroke-width="0.6"/><circle cx="352.16" cy="141.79" r="3.80" fill="#fff"/><path d="M348.36,141.79A3.80,3.80 0 0 0 355.96,141.79Z" fill="#55ea2c"/><circle cx="352.16" cy="141.79" r="3.80" fill="none" stroke="#55ea2c" stroke-width="0.6"/><circle cx="356.43" cy="143.03" r="3.80" fill="#fff"/><path d="M352.63,143.03A3.80,3.80 0 0 0 360.23,143.03Z" fill="#55ea2c"/><circle cx="356.43" cy="143.03" r="3.80" fill="none" stroke="#55ea2c" stroke-width="0.6"/><circle cx="360.70" cy="144.26" r="3.80" fill="#fff"/><path d="M356.90,144.26A3.80,3.80 0 0 0 364.50,144.26Z" fill="#55ea2c"/><circle cx="360.70" cy="144.26" r="3.80" fill="none" stroke="#55ea2c" stroke-width="0.6"/><circle cx="364.97" cy="145.49" r="3.80" fill="#fff"/><path d="M361.17,145.49A3.80,3.80 0 0 0 368.77,145.49Z" fill="#55ea2c"/><circle cx="364.97" cy="145.49" r="3.80" fill="none" stroke="#55ea2c" stroke-width="0.6"/><circle cx="369.24" cy="146.23" r="3.80" fill="#fff"/><path d="M365.44,146.23A3.80,3.80 0 0 0 373.04,146.23Z" fill="#55ea2c"/><circle cx="369.24" cy="146.23" r="3.80" fill="none" stroke="#55ea2c" stroke-width="0.6"/><circle cx="373.51" cy="148.55" r="3.80" fill="#fff"/><path d="M369.71,148.55A3.80,3.80 0 0 0 377.31,148.55Z" fill="#55ea2c"/><circle cx="373.51" cy="148.55" r="3.80" fill="none" stroke="#55ea2c" stroke-width="0.6"/><circle cx="377.78" cy="150.44" r="3.80" fill="#fff"/><path d="M373.98,150.44A3.80,3.80 0 0 0 381.58,150.44Z" fill="#55ea2c"/><circle cx="377.78" cy="150.44" r="3.80" fill="none" stroke="#55ea2c" stroke-width="0.6"/><circle cx="382.05" cy="152.72" r="3.80" fill="#fff"/><path d="M378.25,152.72A3.80,3.80 0 0 0 385.85,152.72Z" fill="#55ea2c"/><circle cx="382.05" cy="152.72" r="3.80" fill="none" stroke="#55ea2c" stroke-width="0.6"/><circle cx="386.32" cy="154.51" r="3.80" fill="#fff"/><path d="M382.52,154.51A3.80,3.80 0 0 0 390.12,154.51Z" fill="#55ea2c"/><circle cx="386.32" cy="154.51" r="3.80" fill="none" stroke="#55ea2c" stroke-width="0.6"/><circle cx="390.59" cy="157.07" r="3.80" fill="#fff"/><path d="M386.79,157.07A3.80,3.80 0 0 0 394.39,157.07Z" fill="#55ea2c"/><circle cx="390.59" cy="157.07" r="3.80" fill="none" stroke="#55ea2c" stroke-width="0.6"/><circle cx="394.86" cy="161.00" r="3.80" fill="#fff"/><path d="M391.06,161.00A3.80,3.80 0 0 0 398.66,161.00Z" fill="#55ea2c"/><circle cx="394.86" cy="161.00" r="3.80" fill="none" stroke="#55ea2c" stroke-width="0.6"/><circle cx="399.13" cy="166.70" r="3.80" fill="#fff"/><path d="M395.33,166.70A3.80,3.80 0 0 0 402.93,166.70Z" fill="#55ea2c"/><circle cx="399.13" cy="166.70" r="3.80" fill="none" stroke="#55ea2c" stroke-width="0.6"/><circle cx="403.40" cy="191.20" r="3.80" fill="#fff"/><path d="M399.60,191.20A3.80,3.80 0 0 0 407.20,191.20Z" fill="#55ea2c"/><circle cx="403.40" cy="191.20" r="3.80" fill="none" stroke="#55ea2c" stroke-width="0.6"/><circle cx="407.67" cy="228.00" r="3.80" fill="#fff"/><path d="M403.87,228.00A3.80,3.80 0 0 0 411.47,228.00Z" fill="#55ea2c"/><circle cx="407.67" cy="228.00" r="3.80" fill="none" stroke="#55ea2c" stroke-width="0.6"/><circle cx="411.94" cy="262.30" r="3.80" fill="#fff"/><path d="M408.14,262.30A3.80,3.80 0 0 0 415.74,262.30Z" fill="#55ea2c"/><circle cx="411.94" cy="262.30" r="3.80" fill="none" stroke="#55ea2c" stroke-width="0.6"/><circle cx="416.21" cy="292.60" r="3.80" fill="#fff"/><path d="M412.41,292.60A3.80,3.80 0 0 0 420.01,292.60Z" fill="#55ea2c"/><circle cx="416.21" cy="292.60" r="3.80" fill="none" stroke="#55ea2c" stroke-width="0.6"/><circle cx="420.48" cy="329.60" r="3.80" fill="#fff"/><path d="M416.68,329.60A3.80,3.80 0 0 0 424.28,329.60Z" fill="#55ea2c"/><circle cx="420.48" cy="329.60" r="3.80" fill="none" stroke="#55ea2c" stroke-width="0.6"/><circle cx="424.75" cy="353.60" r="3.80" fill="#fff"/><path d="M420.95,353.60A3.80,3.80 0 0 0 428.55,353.60Z" fill="#55ea2c"/><circle cx="424.75" cy="353.60" r="3.80" fill="none" stroke="#55ea2c" stroke-width="0.6"/><circle cx="429.02" cy="353.60" r="3.80" fill="#fff"/><path d="M425.22,353.60A3.80,3.80 0 0 0 432.82,353.60Z" fill="#55ea2c"/><circle cx="429.02" cy="353.60" r="3.80" fill="none" stroke="#55ea2c" stroke-width="0.6"/><circle cx="433.29" cy="353.60" r="3.80" fill="#fff"/><path d="M429.49,353.60A3.80,3.80 0 0 0 437.09,353.60Z" fill="#55ea2c"/><circle cx="433.29" cy="353.60" r="3.80" fill="none" stroke="#55ea2c" stroke-width="0.6"/><circle cx="437.56" cy="353.60" r="3.80" fill="#fff"/><path d="M433.76,353.60A3.80,3.80 0 0 0 441.36,353.60Z" fill="#55ea2c"/><circle cx="437.56" cy="353.60" r="3.80" fill="none" stroke="#55ea2c" stroke-width="0.6"/><circle cx="441.83" cy="353.60" r="3.80" fill="#fff"/><path d="M438.03,353.60A3.80,3.80 0 0 0 445.63,353.60Z" fill="#55ea2c"/><circle cx="441.83" cy="353.60" r="3.80" fill="none" stroke="#55ea2c" stroke-width="0.6"/><circle cx="446.10" cy="353.60" r="3.80" fill="#fff"/><path d="M442.30,353.60A3.80,3.80 0 0 0 449.90,353.60Z" fill="#55ea2c"/><circle cx="446.10" cy="353.60" r="3.80" fill="none" stroke="#55ea2c" stroke-width="0.6"/><circle cx="450.37" cy="353.60" r="3.80" fill="#fff"/><path d="M446.57,353.60A3.80,3.80 0 0 0 454.17,353.60Z" fill="#55ea2c"/><circle cx="450.37" cy="353.60" r="3.80" fill="none" stroke="#55ea2c" stroke-width="0.6"/><circle cx="454.64" cy="353.60" r="3.80" fill="#fff"/><path d="M450.84,353.60A3.80,3.80 0 0 0 458.44,353.60Z" fill="#55ea2c"/><circle cx="454.64" cy="353.60" r="3.80" fill="none" stroke="#55ea2c" stroke-width="0.6"/><circle cx="458.91" cy="353.60" r="3.80" fill="#fff"/><path d="M455.11,353.60A3.80,3.80 0 0 0 462.71,353.60Z" fill="#55ea2c"/><circle cx="458.91" cy="353.60" r="3.80" fill="none" stroke="#55ea2c" stroke-width="0.6"/><polyline points="113.04,354.80 117.31,343.50 121.58,318.00 125.85,282.50 130.12,253.30 134.39,226.20 138.66,196.00 142.93,173.30 147.20,155.00 151.47,134.80 155.74,116.00 160.01,95.30 164.28,79.60 168.55,66.20 172.82,55.30 177.09,51.50 181.36,51.00 185.63,49.50 189.90,44.70 194.17,37.60 198.44,24.00 202.71,18.70 206.98,19.30 211.25,21.00 215.52,23.00 219.79,25.00 224.06,27.46 228.33,29.20 232.60,30.74 236.87,32.27 241.14,33.32 245.41,34.29 249.68,35.25 253.95,36.14 258.22,36.78 262.49,37.42 266.76,38.06 271.03,38.70 275.30,39.34 279.57,39.88 283.84,40.43 288.11,40.98 292.38,41.52 296.65,42.07 300.92,42.65 305.19,43.35 309.46,44.04 313.73,44.74 318.00,45.44 322.27,46.13 326.54,47.04 330.81,48.01 335.08,48.98 339.35,49.95 343.62,50.92 347.89,51.95 352.16,53.10 356.43,54.25 360.70,55.40 364.97,56.55 369.24,57.70 373.51,58.67 377.78,59.61 382.05,60.55 386.32,61.49 390.59,62.43 394.86,63.50 399.13,64.79 403.40,65.50 407.67,67.50 411.94,71.50 416.21,77.60 420.48,90.20 424.75,106.50 429.02,121.50 433.29,136.00 437.56,159.60 441.83,180.00 446.10,204.60 450.37,225.60 454.64,260.00 458.91,305.10 463.18,353.00 467.45,354.00 471.72,354.00 475.99,354.00 480.26,354.00 484.53,354.00 488.80,354.00" fill="none" stroke="#0a0af6" stroke-width="3.3" stroke-linejoin="round" mask="url(#mb)"/><circle cx="113.04" cy="354.80" r="3.80" fill="#fff"/><path d="M109.24,354.80A3.80,3.80 0 0 1 116.84,354.80Z" fill="#0a0af6"/><circle cx="113.04" cy="354.80" r="3.80" fill="none" stroke="#0a0af6" stroke-width="0.6"/><circle cx="117.31" cy="343.50" r="3.80" fill="#fff"/><path d="M113.51,343.50A3.80,3.80 0 0 1 121.11,343.50Z" fill="#0a0af6"/><circle cx="117.31" cy="343.50" r="3.80" fill="none" stroke="#0a0af6" stroke-width="0.6"/><circle cx="121.58" cy="318.00" r="3.80" fill="#fff"/><path d="M117.78,318.00A3.80,3.80 0 0 1 125.38,318.00Z" fill="#0a0af6"/><circle cx="121.58" cy="318.00" r="3.80" fill="none" stroke="#0a0af6" stroke-width="0.6"/><circle cx="125.85" cy="282.50" r="3.80" fill="#fff"/><path d="M122.05,282.50A3.80,3.80 0 0 1 129.65,282.50Z" fill="#0a0af6"/><circle cx="125.85" cy="282.50" r="3.80" fill="none" stroke="#0a0af6" stroke-width="0.6"/><circle cx="130.12" cy="253.30" r="3.80" fill="#fff"/><path d="M126.32,253.30A3.80,3.80 0 0 1 133.92,253.30Z" fill="#0a0af6"/><circle cx="130.12" cy="253.30" r="3.80" fill="none" stroke="#0a0af6" stroke-width="0.6"/><circle cx="134.39" cy="226.20" r="3.80" fill="#fff"/><path d="M130.59,226.20A3.80,3.80 0 0 1 138.19,226.20Z" fill="#0a0af6"/><circle cx="134.39" cy="226.20" r="3.80" fill="none" stroke="#0a0af6" stroke-width="0.6"/><circle cx="138.66" cy="196.00" r="3.80" fill="#fff"/><path d="M134.86,196.00A3.80,3.80 0 0 1 142.46,196.00Z" fill="#0a0af6"/><circle cx="138.66" cy="196.00" r="3.80" fill="none" stroke="#0a0af6" stroke-width="0.6"/><circle cx="142.93" cy="173.30" r="3.80" fill="#fff"/><path d="M139.13,173.30A3.80,3.80 0 0 1 146.73,173.30Z" fill="#0a0af6"/><circle cx="142.93" cy="173.30" r="3.80" fill="none" stroke="#0a0af6" stroke-width="0.6"/><circle cx="147.20" cy="155.00" r="3.80" fill="#fff"/><path d="M143.40,155.00A3.80,3.80 0 0 1 151.00,155.00Z" fill="#0a0af6"/><circle cx="147.20" cy="155.00" r="3.80" fill="none" stroke="#0a0af6" stroke-width="0.6"/><circle cx="151.47" cy="134.80" r="3.80" fill="#fff"/><path d="M147.67,134.80A3.80,3.80 0 0 1 155.27,134.80Z" fill="#0a0af6"/><circle cx="151.47" cy="134.80" r="3.80" fill="none" stroke="#0a0af6" stroke-width="0.6"/><circle cx="155.74" cy="116.00" r="3.80" fill="#fff"/><path d="M151.94,116.00A3.80,3.80 0 0 1 159.54,116.00Z" fill="#0a0af6"/><circle cx="155.74" cy="116.00" r="3.80" fill="none" stroke="#0a0af6" stroke-width="0.6"/><circle cx="160.01" cy="95.30" r="3.80" fill="#fff"/><path d="M156.21,95.30A3.80,3.80 0 0 1 163.81,95.30Z" fill="#0a0af6"/><circle cx="160.01" cy="95.30" r="3.80" fill="none" stroke="#0a0af6" stroke-width="0.6"/><circle cx="164.28" cy="79.60" r="3.80" fill="#fff"/><path d="M160.48,79.60A3.80,3.80 0 0 1 168.08,79.60Z" fill="#0a0af6"/><circle cx="164.28" cy="79.60" r="3.80" fill="none" stroke="#0a0af6" stroke-width="0.6"/><circle cx="168.55" cy="66.20" r="3.80" fill="#fff"/><path d="M164.75,66.20A3.80,3.80 0 0 1 172.35,66.20Z" fill="#0a0af6"/><circle cx="168.55" cy="66.20" r="3.80" fill="none" stroke="#0a0af6" stroke-width="0.6"/><circle cx="172.82" cy="55.30" r="3.80" fill="#fff"/><path d="M169.02,55.30A3.80,3.80 0 0 1 176.62,55.30Z" fill="#0a0af6"/><circle cx="172.82" cy="55.30" r="3.80" fill="none" stroke="#0a0af6" stroke-width="0.6"/><circle cx="177.09" cy="51.50" r="3.80" fill="#fff"/><path d="M173.29,51.50A3.80,3.80 0 0 1 180.89,51.50Z" fill="#0a0af6"/><circle cx="177.09" cy="51.50" r="3.80" fill="none" stroke="#0a0af6" stroke-width="0.6"/><circle cx="181.36" cy="51.00" r="3.80" fill="#fff"/><path d="M177.56,51.00A3.80,3.80 0 0 1 185.16,51.00Z" fill="#0a0af6"/><circle cx="181.36" cy="51.00" r="3.80" fill="none" stroke="#0a0af6" stroke-width="0.6"/><circle cx="185.63" cy="49.50" r="3.80" fill="#fff"/><path d="M181.83,49.50A3.80,3.80 0 0 1 189.43,49.50Z" fill="#0a0af6"/><circle cx="185.63" cy="49.50" r="3.80" fill="none" stroke="#0a0af6" stroke-width="0.6"/><circle cx="189.90" cy="44.70" r="3.80" fill="#fff"/><path d="M186.10,44.70A3.80,3.80 0 0 1 193.70,44.70Z" fill="#0a0af6"/><circle cx="189.90" cy="44.70" r="3.80" fill="none" stroke="#0a0af6" stroke-width="0.6"/><circle cx="194.17" cy="37.60" r="3.80" fill="#fff"/><path d="M190.37,37.60A3.80,3.80 0 0 1 197.97,37.60Z" fill="#0a0af6"/><circle cx="194.17" cy="37.60" r="3.80" fill="none" stroke="#0a0af6" stroke-width="0.6"/><circle cx="198.44" cy="24.00" r="3.80" fill="#fff"/><path d="M194.64,24.00A3.80,3.80 0 0 1 202.24,24.00Z" fill="#0a0af6"/><circle cx="198.44" cy="24.00" r="3.80" fill="none" stroke="#0a0af6" stroke-width="0.6"/><circle cx="202.71" cy="18.70" r="3.80" fill="#fff"/><path d="M198.91,18.70A3.80,3.80 0 0 1 206.51,18.70Z" fill="#0a0af6"/><circle cx="202.71" cy="18.70" r="3.80" fill="none" stroke="#0a0af6" stroke-width="0.6"/><circle cx="206.98" cy="19.30" r="3.80" fill="#fff"/><path d="M203.18,19.30A3.80,3.80 0 0 1 210.78,19.30Z" fill="#0a0af6"/><circle cx="206.98" cy="19.30" r="3.80" fill="none" stroke="#0a0af6" stroke-width="0.6"/><circle cx="211.25" cy="21.00" r="3.80" fill="#fff"/><path d="M207.45,21.00A3.80,3.80 0 0 1 215.05,21.00Z" fill="#0a0af6"/><circle cx="211.25" cy="21.00" r="3.80" fill="none" stroke="#0a0af6" stroke-width="0.6"/><circle cx="215.52" cy="23.00" r="3.80" fill="#fff"/><path d="M211.72,23.00A3.80,3.80 0 0 1 219.32,23.00Z" fill="#0a0af6"/><circle cx="215.52" cy="23.00" r="3.80" fill="none" stroke="#0a0af6" stroke-width="0.6"/><circle cx="219.79" cy="25.00" r="3.80" fill="#fff"/><path d="M215.99,25.00A3.80,3.80 0 0 1 223.59,25.00Z" fill="#0a0af6"/><circle cx="219.79" cy="25.00" r="3.80" fill="none" stroke="#0a0af6" stroke-width="0.6"/><circle cx="224.06" cy="27.46" r="3.80" fill="#fff"/><path d="M220.26,27.46A3.80,3.80 0 0 1 227.86,27.46Z" fill="#0a0af6"/><circle cx="224.06" cy="27.46" r="3.80" fill="none" stroke="#0a0af6" stroke-width="0.6"/><circle cx="228.33" cy="29.20" r="3.80" fill="#fff"/><path d="M224.53,29.20A3.80,3.80 0 0 1 232.13,29.20Z" fill="#0a0af6"/><circle cx="228.33" cy="29.20" r="3.80" fill="none" stroke="#0a0af6" stroke-width="0.6"/><circle cx="232.60" cy="30.74" r="3.80" fill="#fff"/><path d="M228.80,30.74A3.80,3.80 0 0 1 236.40,30.74Z" fill="#0a0af6"/><circle cx="232.60" cy="30.74" r="3.80" fill="none" stroke="#0a0af6" stroke-width="0.6"/><circle cx="236.87" cy="32.27" r="3.80" fill="#fff"/><path d="M233.07,32.27A3.80,3.80 0 0 1 240.67,32.27Z" fill="#0a0af6"/><circle cx="236.87" cy="32.27" r="3.80" fill="none" stroke="#0a0af6" stroke-width="0.6"/><circle cx="241.14" cy="33.32" r="3.80" fill="#fff"/><path d="M237.34,33.32A3.80,3.80 0 0 1 244.94,33.32Z" fill="#0a0af6"/><circle cx="241.14" cy="33.32" r="3.80" fill="none" stroke="#0a0af6" stroke-width="0.6"/><circle cx="245.41" cy="34.29" r="3.80" fill="#fff"/><path d="M241.61,34.29A3.80,3.80 0 0 1 249.21,34.29Z" fill="#0a0af6"/><circle cx="245.41" cy="34.29" r="3.80" fill="none" stroke="#0a0af6" stroke-width="0.6"/><circle cx="249.68" cy="35.25" r="3.80" fill="#fff"/><path d="M245.88,35.25A3.80,3.80 0 0 1 253.48,35.25Z" fill="#0a0af6"/><circle cx="249.68" cy="35.25" r="3.80" fill="none" stroke="#0a0af6" stroke-width="0.6"/><circle cx="253.95" cy="36.14" r="3.80" fill="#fff"/><path d="M250.15,36.14A3.80,3.80 0 0 1 257.75,36.14Z" fill="#0a0af6"/><circle cx="253.95" cy="36.14" r="3.80" fill="none" stroke="#0a0af6" stroke-width="0.6"/><circle cx="258.22" cy="36.78" r="3.80" fill="#fff"/><path d="M254.42,36.78A3.80,3.80 0 0 1 262.02,36.78Z" fill="#0a0af6"/><circle cx="258.22" cy="36.78" r="3.80" fill="none" stroke="#0a0af6" stroke-width="0.6"/><circle cx="262.49" cy="37.42" r="3.80" fill="#fff"/><path d="M258.69,37.42A3.80,3.80 0 0 1 266.29,37.42Z" fill="#0a0af6"/><circle cx="262.49" cy="37.42" r="3.80" fill="none" stroke="#0a0af6" stroke-width="0.6"/><circle cx="266.76" cy="38.06" r="3.80" fill="#fff"/><path d="M262.96,38.06A3.80,3.80 0 0 1 270.56,38.06Z" fill="#0a0af6"/><circle cx="266.76" cy="38.06" r="3.80" fill="none" stroke="#0a0af6" stroke-width="0.6"/><circle cx="271.03" cy="38.70" r="3.80" fill="#fff"/><path d="M267.23,38.70A3.80,3.80 0 0 1 274.83,38.70Z" fill="#0a0af6"/><circle cx="271.03" cy="38.70" r="3.80" fill="none" stroke="#0a0af6" stroke-width="0.6"/><circle cx="275.30" cy="39.34" r="3.80" fill="#fff"/><path d="M271.50,39.34A3.80,3.80 0 0 1 279.10,39.34Z" fill="#0a0af6"/><circle cx="275.30" cy="39.34" r="3.80" fill="none" stroke="#0a0af6" stroke-width="0.6"/><circle cx="279.57" cy="39.88" r="3.80" fill="#fff"/><path d="M275.77,39.88A3.80,3.80 0 0 1 283.37,39.88Z" fill="#0a0af6"/><circle cx="279.57" cy="39.88" r="3.80" fill="none" stroke="#0a0af6" stroke-width="0.6"/><circle cx="283.84" cy="40.43" r="3.80" fill="#fff"/><path d="M280.04,40.43A3.80,3.80 0 0 1 287.64,40.43Z" fill="#0a0af6"/><circle cx="283.84" cy="40.43" r="3.80" fill="none" stroke="#0a0af6" stroke-width="0.6"/><circle cx="288.11" cy="40.98" r="3.80" fill="#fff"/><path d="M284.31,40.98A3.80,3.80 0 0 1 291.91,40.98Z" fill="#0a0af6"/><circle cx="288.11" cy="40.98" r="3.80" fill="none" stroke="#0a0af6" stroke-width="0.6"/><circle cx="292.38" cy="41.52" r="3.80" fill="#fff"/><path d="M288.58,41.52A3.80,3.80 0 0 1 296.18,41.52Z" fill="#0a0af6"/><circle cx="292.38" cy="41.52" r="3.80" fill="none" stroke="#0a0af6" stroke-width="0.6"/><circle cx="296.65" cy="42.07" r="3.80" fill="#fff"/><path d="M292.85,42.07A3.80,3.80 0 0 1 300.45,42.07Z" fill="#0a0af6"/><circle cx="296.65" cy="42.07" r="3.80" fill="none" stroke="#0a0af6" stroke-width="0.6"/><circle cx="300.92" cy="42.65" r="3.80" fill="#fff"/><path d="M297.12,42.65A3.80,3.80 0 0 1 304.72,42.65Z" fill="#0a0af6"/><circle cx="300.92" cy="42.65" r="3.80" fill="none" stroke="#0a0af6" stroke-width="0.6"/><circle cx="305.19" cy="43.35" r="3.80" fill="#fff"/><path d="M301.39,43.35A3.80,3.80 0 0 1 308.99,43.35Z" fill="#0a0af6"/><circle cx="305.19" cy="43.35" r="3.80" fill="none" stroke="#0a0af6" stroke-width="0.6"/><circle cx="309.46" cy="44.04" r="3.80" fill="#fff"/><path d="M305.66,44.04A3.80,3.80 0 0 1 313.26,44.04Z" fill="#0a0af6"/><circle cx="309.46" cy="44.04" r="3.80" fill="none" stroke="#0a0af6" stroke-width="0.6"/><circle cx="313.73" cy="44.74" r="3.80" fill="#fff"/><path d="M309.93,44.74A3.80,3.80 0 0 1 317.53,44.74Z" fill="#0a0af6"/><circle cx="313.73" cy="44.74" r="3.80" fill="none" stroke="#0a0af6" stroke-width="0.6"/><circle cx="318.00" cy="45.44" r="3.80" fill="#fff"/><path d="M314.20,45.44A3.80,3.80 0 0 1 321.80,45.44Z" fill="#0a0af6"/><circle cx="318.00" cy="45.44" r="3.80" fill="none" stroke="#0a0af6" stroke-width="0.6"/><circle cx="322.27" cy="46.13" r="3.80" fill="#fff"/><path d="M318.47,46.13A3.80,3.80 0 0 1 326.07,46.13Z" fill="#0a0af6"/><circle cx="322.27" cy="46.13" r="3.80" fill="none" stroke="#0a0af6" stroke-width="0.6"/><circle cx="326.54" cy="47.04" r="3.80" fill="#fff"/><path d="M322.74,47.04A3.80,3.80 0 0 1 330.34,47.04Z" fill="#0a0af6"/><circle cx="326.54" cy="47.04" r="3.80" fill="none" stroke="#0a0af6" stroke-width="0.6"/><circle cx="330.81" cy="48.01" r="3.80" fill="#fff"/><path d="M327.01,48.01A3.80,3.80 0 0 1 334.61,48.01Z" fill="#0a0af6"/><circle cx="330.81" cy="48.01" r="3.80" fill="none" stroke="#0a0af6" stroke-width="0.6"/><circle cx="335.08" cy="48.98" r="3.80" fill="#fff"/><path d="M331.28,48.98A3.80,3.80 0 0 1 338.88,48.98Z" fill="#0a0af6"/><circle cx="335.08" cy="48.98" r="3.80" fill="none" stroke="#0a0af6" stroke-width="0.6"/><circle cx="339.35" cy="49.95" r="3.80" fill="#fff"/><path d="M335.55,49.95A3.80,3.80 0 0 1 343.15,49.95Z" fill="#0a0af6"/><circle cx="339.35" cy="49.95" r="3.80" fill="none" stroke="#0a0af6" stroke-width="0.6"/><circle cx="343.62" cy="50.92" r="3.80" fill="#fff"/><path d="M339.82,50.92A3.80,3.80 0 0 1 347.42,50.92Z" fill="#0a0af6"/><circle cx="343.62" cy="50.92" r="3.80" fill="none" stroke="#0a0af6" stroke-width="0.6"/><circle cx="347.89" cy="51.95" r="3.80" fill="#fff"/><path d="M344.09,51.95A3.80,3.80 0 0 1 351.69,51.95Z" fill="#0a0af6"/><circle cx="347.89" cy="51.95" r="3.80" fill="none" stroke="#0a0af6" stroke-width="0.6"/><circle cx="352.16" cy="53.10" r="3.80" fill="#fff"/><path d="M348.36,53.10A3.80,3.80 0 0 1 355.96,53.10Z" fill="#0a0af6"/><circle cx="352.16" cy="53.10" r="3.80" fill="none" stroke="#0a0af6" stroke-width="0.6"/><circle cx="356.43" cy="54.25" r="3.80" fill="#fff"/><path d="M352.63,54.25A3.80,3.80 0 0 1 360.23,54.25Z" fill="#0a0af6"/><circle cx="356.43" cy="54.25" r="3.80" fill="none" stroke="#0a0af6" stroke-width="0.6"/><circle cx="360.70" cy="55.40" r="3.80" fill="#fff"/><path d="M356.90,55.40A3.80,3.80 0 0 1 364.50,55.40Z" fill="#0a0af6"/><circle cx="360.70" cy="55.40" r="3.80" fill="none" stroke="#0a0af6" stroke-width="0.6"/><circle cx="364.97" cy="56.55" r="3.80" fill="#fff"/><path d="M361.17,56.55A3.80,3.80 0 0 1 368.77,56.55Z" fill="#0a0af6"/><circle cx="364.97" cy="56.55" r="3.80" fill="none" stroke="#0a0af6" stroke-width="0.6"/><circle cx="369.24" cy="57.70" r="3.80" fill="#fff"/><path d="M365.44,57.70A3.80,3.80 0 0 1 373.04,57.70Z" fill="#0a0af6"/><circle cx="369.24" cy="57.70" r="3.80" fill="none" stroke="#0a0af6" stroke-width="0.6"/><circle cx="373.51" cy="58.67" r="3.80" fill="#fff"/><path d="M369.71,58.67A3.80,3.80 0 0 1 377.31,58.67Z" fill="#0a0af6"/><circle cx="373.51" cy="58.67" r="3.80" fill="none" stroke="#0a0af6" stroke-width="0.6"/><circle cx="377.78" cy="59.61" r="3.80" fill="#fff"/><path d="M373.98,59.61A3.80,3.80 0 0 1 381.58,59.61Z" fill="#0a0af6"/><circle cx="377.78" cy="59.61" r="3.80" fill="none" stroke="#0a0af6" stroke-width="0.6"/><circle cx="382.05" cy="60.55" r="3.80" fill="#fff"/><path d="M378.25,60.55A3.80,3.80 0 0 1 385.85,60.55Z" fill="#0a0af6"/><circle cx="382.05" cy="60.55" r="3.80" fill="none" stroke="#0a0af6" stroke-width="0.6"/><circle cx="386.32" cy="61.49" r="3.80" fill="#fff"/><path d="M382.52,61.49A3.80,3.80 0 0 1 390.12,61.49Z" fill="#0a0af6"/><circle cx="386.32" cy="61.49" r="3.80" fill="none" stroke="#0a0af6" stroke-width="0.6"/><circle cx="390.59" cy="62.43" r="3.80" fill="#fff"/><path d="M386.79,62.43A3.80,3.80 0 0 1 394.39,62.43Z" fill="#0a0af6"/><circle cx="390.59" cy="62.43" r="3.80" fill="none" stroke="#0a0af6" stroke-width="0.6"/><circle cx="394.86" cy="63.50" r="3.80" fill="#fff"/><path d="M391.06,63.50A3.80,3.80 0 0 1 398.66,63.50Z" fill="#0a0af6"/><circle cx="394.86" cy="63.50" r="3.80" fill="none" stroke="#0a0af6" stroke-width="0.6"/><circle cx="399.13" cy="64.79" r="3.80" fill="#fff"/><path d="M395.33,64.79A3.80,3.80 0 0 1 402.93,64.79Z" fill="#0a0af6"/><circle cx="399.13" cy="64.79" r="3.80" fill="none" stroke="#0a0af6" stroke-width="0.6"/><circle cx="403.40" cy="65.50" r="3.80" fill="#fff"/><path d="M399.60,65.50A3.80,3.80 0 0 1 407.20,65.50Z" fill="#0a0af6"/><circle cx="403.40" cy="65.50" r="3.80" fill="none" stroke="#0a0af6" stroke-width="0.6"/><circle cx="407.67" cy="67.50" r="3.80" fill="#fff"/><path d="M403.87,67.50A3.80,3.80 0 0 1 411.47,67.50Z" fill="#0a0af6"/><circle cx="407.67" cy="67.50" r="3.80" fill="none" stroke="#0a0af6" stroke-width="0.6"/><circle cx="411.94" cy="71.50" r="3.80" fill="#fff"/><path d="M408.14,71.50A3.80,3.80 0 0 1 415.74,71.50Z" fill="#0a0af6"/><circle cx="411.94" cy="71.50" r="3.80" fill="none" stroke="#0a0af6" stroke-width="0.6"/><circle cx="416.21" cy="77.60" r="3.80" fill="#fff"/><path d="M412.41,77.60A3.80,3.80 0 0 1 420.01,77.60Z" fill="#0a0af6"/><circle cx="416.21" cy="77.60" r="3.80" fill="none" stroke="#0a0af6" stroke-width="0.6"/><circle cx="420.48" cy="90.20" r="3.80" fill="#fff"/><path d="M416.68,90.20A3.80,3.80 0 0 1 424.28,90.20Z" fill="#0a0af6"/><circle cx="420.48" cy="90.20" r="3.80" fill="none" stroke="#0a0af6" stroke-width="0.6"/><circle cx="424.75" cy="106.50" r="3.80" fill="#fff"/><path d="M420.95,106.50A3.80,3.80 0 0 1 428.55,106.50Z" fill="#0a0af6"/><circle cx="424.75" cy="106.50" r="3.80" fill="none" stroke="#0a0af6" stroke-width="0.6"/><circle cx="429.02" cy="121.50" r="3.80" fill="#fff"/><path d="M425.22,121.50A3.80,3.80 0 0 1 432.82,121.50Z" fill="#0a0af6"/><circle cx="429.02" cy="121.50" r="3.80" fill="none" stroke="#0a0af6" stroke-width="0.6"/><circle cx="433.29" cy="136.00" r="3.80" fill="#fff"/><path d="M429.49,136.00A3.80,3.80 0 0 1 437.09,136.00Z" fill="#0a0af6"/><circle cx="433.29" cy="136.00" r="3.80" fill="none" stroke="#0a0af6" stroke-width="0.6"/><circle cx="437.56" cy="159.60" r="3.80" fill="#fff"/><path d="M433.76,159.60A3.80,3.80 0 0 1 441.36,159.60Z" fill="#0a0af6"/><circle cx="437.56" cy="159.60" r="3.80" fill="none" stroke="#0a0af6" stroke-width="0.6"/><circle cx="441.83" cy="180.00" r="3.80" fill="#fff"/><path d="M438.03,180.00A3.80,3.80 0 0 1 445.63,180.00Z" fill="#0a0af6"/><circle cx="441.83" cy="180.00" r="3.80" fill="none" stroke="#0a0af6" stroke-width="0.6"/><circle cx="446.10" cy="204.60" r="3.80" fill="#fff"/><path d="M442.30,204.60A3.80,3.80 0 0 1 449.90,204.60Z" fill="#0a0af6"/><circle cx="446.10" cy="204.60" r="3.80" fill="none" stroke="#0a0af6" stroke-width="0.6"/><circle cx="450.37" cy="225.60" r="3.80" fill="#fff"/><path d="M446.57,225.60A3.80,3.80 0 0 1 454.17,225.60Z" fill="#0a0af6"/><circle cx="450.37" cy="225.60" r="3.80" fill="none" stroke="#0a0af6" stroke-width="0.6"/><circle cx="454.64" cy="260.00" r="3.80" fill="#fff"/><path d="M450.84,260.00A3.80,3.80 0 0 1 458.44,260.00Z" fill="#0a0af6"/><circle cx="454.64" cy="260.00" r="3.80" fill="none" stroke="#0a0af6" stroke-width="0.6"/><circle cx="458.91" cy="305.10" r="3.80" fill="#fff"/><path d="M455.11,305.10A3.80,3.80 0 0 1 462.71,305.10Z" fill="#0a0af6"/><circle cx="458.91" cy="305.10" r="3.80" fill="none" stroke="#0a0af6" stroke-width="0.6"/><circle cx="463.18" cy="353.00" r="3.80" fill="#fff"/><path d="M459.38,353.00A3.80,3.80 0 0 1 466.98,353.00Z" fill="#0a0af6"/><circle cx="463.18" cy="353.00" r="3.80" fill="none" stroke="#0a0af6" stroke-width="0.6"/><circle cx="467.45" cy="354.00" r="3.80" fill="#fff"/><path d="M463.65,354.00A3.80,3.80 0 0 1 471.25,354.00Z" fill="#0a0af6"/><circle cx="467.45" cy="354.00" r="3.80" fill="none" stroke="#0a0af6" stroke-width="0.6"/><circle cx="471.72" cy="354.00" r="3.80" fill="#fff"/><path d="M467.92,354.00A3.80,3.80 0 0 1 475.52,354.00Z" fill="#0a0af6"/><circle cx="471.72" cy="354.00" r="3.80" fill="none" stroke="#0a0af6" stroke-width="0.6"/><circle cx="475.99" cy="354.00" r="3.80" fill="#fff"/><path d="M472.19,354.00A3.80,3.80 0 0 1 479.79,354.00Z" fill="#0a0af6"/><circle cx="475.99" cy="354.00" r="3.80" fill="none" stroke="#0a0af6" stroke-width="0.6"/><circle cx="480.26" cy="354.00" r="3.80" fill="#fff"/><path d="M476.46,354.00A3.80,3.80 0 0 1 484.06,354.00Z" fill="#0a0af6"/><circle cx="480.26" cy="354.00" r="3.80" fill="none" stroke="#0a0af6" stroke-width="0.6"/><circle cx="484.53" cy="354.00" r="3.80" fill="#fff"/><path d="M480.73,354.00A3.80,3.80 0 0 1 488.33,354.00Z" fill="#0a0af6"/><circle cx="484.53" cy="354.00" r="3.80" fill="none" stroke="#0a0af6" stroke-width="0.6"/><circle cx="488.80" cy="354.00" r="3.80" fill="#fff"/><path d="M485.00,354.00A3.80,3.80 0 0 1 492.60,354.00Z" fill="#0a0af6"/><circle cx="488.80" cy="354.00" r="3.80" fill="none" stroke="#0a0af6" stroke-width="0.6"/><polyline points="113.04,354.90 117.31,343.80 121.58,319.00 125.85,284.40 130.12,255.90 134.39,229.50 138.66,200.00 142.93,177.90 147.20,160.10 151.47,140.40 155.74,122.00 160.01,101.80 164.28,87.00 168.55,74.50 172.82,63.50 177.09,59.00 181.36,58.50 185.63,56.80 189.90,51.50 194.17,44.00 198.44,33.00 202.71,28.40 206.98,29.00 211.25,31.50 215.52,36.50 219.79,44.50 224.06,49.50 228.33,55.00 232.60,58.50 236.87,62.00 241.14,63.25 245.41,64.91 249.68,66.57 253.95,67.60 258.22,68.80 262.49,70.14 266.76,71.37 271.03,72.37 275.30,72.67 279.57,72.97 283.84,73.23 288.11,73.49 292.38,73.93 296.65,74.36 300.92,74.51 305.19,74.66 309.46,74.85 313.73,75.31 318.00,75.76 322.27,76.22 326.54,77.11 330.81,78.11 335.08,79.22 339.35,80.33 343.62,81.44 347.89,82.55 352.16,83.66 356.43,84.67 360.70,85.46 364.97,86.25 369.24,87.04 373.51,87.84 377.78,88.63 382.05,89.42 386.32,90.71 390.59,92.13 394.86,93.59 399.13,95.12 403.40,95.50 407.67,97.00 411.94,101.00 416.21,106.50 420.48,110.60 424.75,116.30 429.02,122.00 433.29,130.80 437.56,153.60 441.83,177.40 446.10,193.20 450.37,214.00 454.64,233.00 458.91,254.00 463.18,268.50 467.45,282.00 471.72,296.00 475.99,315.40 480.26,332.00 484.53,341.50 488.80,353.80" fill="none" stroke="#5aeef8" stroke-width="3.3" stroke-linejoin="round" mask="url(#mc)"/><circle cx="113.04" cy="354.90" r="3.80" fill="#fff"/><path d="M113.04,351.10A3.80,3.80 0 0 1 113.04,358.70Z" fill="#5aeef8"/><circle cx="113.04" cy="354.90" r="3.80" fill="none" stroke="#5aeef8" stroke-width="0.6"/><circle cx="117.31" cy="343.80" r="3.80" fill="#fff"/><path d="M117.31,340.00A3.80,3.80 0 0 1 117.31,347.60Z" fill="#5aeef8"/><circle cx="117.31" cy="343.80" r="3.80" fill="none" stroke="#5aeef8" stroke-width="0.6"/><circle cx="121.58" cy="319.00" r="3.80" fill="#fff"/><path d="M121.58,315.20A3.80,3.80 0 0 1 121.58,322.80Z" fill="#5aeef8"/><circle cx="121.58" cy="319.00" r="3.80" fill="none" stroke="#5aeef8" stroke-width="0.6"/><circle cx="125.85" cy="284.40" r="3.80" fill="#fff"/><path d="M125.85,280.60A3.80,3.80 0 0 1 125.85,288.20Z" fill="#5aeef8"/><circle cx="125.85" cy="284.40" r="3.80" fill="none" stroke="#5aeef8" stroke-width="0.6"/><circle cx="130.12" cy="255.90" r="3.80" fill="#fff"/><path d="M130.12,252.10A3.80,3.80 0 0 1 130.12,259.70Z" fill="#5aeef8"/><circle cx="130.12" cy="255.90" r="3.80" fill="none" stroke="#5aeef8" stroke-width="0.6"/><circle cx="134.39" cy="229.50" r="3.80" fill="#fff"/><path d="M134.39,225.70A3.80,3.80 0 0 1 134.39,233.30Z" fill="#5aeef8"/><circle cx="134.39" cy="229.50" r="3.80" fill="none" stroke="#5aeef8" stroke-width="0.6"/><circle cx="138.66" cy="200.00" r="3.80" fill="#fff"/><path d="M138.66,196.20A3.80,3.80 0 0 1 138.66,203.80Z" fill="#5aeef8"/><circle cx="138.66" cy="200.00" r="3.80" fill="none" stroke="#5aeef8" stroke-width="0.6"/><circle cx="142.93" cy="177.90" r="3.80" fill="#fff"/><path d="M142.93,174.10A3.80,3.80 0 0 1 142.93,181.70Z" fill="#5aeef8"/><circle cx="142.93" cy="177.90" r="3.80" fill="none" stroke="#5aeef8" stroke-width="0.6"/><circle cx="147.20" cy="160.10" r="3.80" fill="#fff"/><path d="M147.20,156.30A3.80,3.80 0 0 1 147.20,163.90Z" fill="#5aeef8"/><circle cx="147.20" cy="160.10" r="3.80" fill="none" stroke="#5aeef8" stroke-width="0.6"/><circle cx="151.47" cy="140.40" r="3.80" fill="#fff"/><path d="M151.47,136.60A3.80,3.80 0 0 1 151.47,144.20Z" fill="#5aeef8"/><circle cx="151.47" cy="140.40" r="3.80" fill="none" stroke="#5aeef8" stroke-width="0.6"/><circle cx="155.74" cy="122.00" r="3.80" fill="#fff"/><path d="M155.74,118.20A3.80,3.80 0 0 1 155.74,125.80Z" fill="#5aeef8"/><circle cx="155.74" cy="122.00" r="3.80" fill="none" stroke="#5aeef8" stroke-width="0.6"/><circle cx="160.01" cy="101.80" r="3.80" fill="#fff"/><path d="M160.01,98.00A3.80,3.80 0 0 1 160.01,105.60Z" fill="#5aeef8"/><circle cx="160.01" cy="101.80" r="3.80" fill="none" stroke="#5aeef8" stroke-width="0.6"/><circle cx="164.28" cy="87.00" r="3.80" fill="#fff"/><path d="M164.28,83.20A3.80,3.80 0 0 1 164.28,90.80Z" fill="#5aeef8"/><circle cx="164.28" cy="87.00" r="3.80" fill="none" stroke="#5aeef8" stroke-width="0.6"/><circle cx="168.55" cy="74.50" r="3.80" fill="#fff"/><path d="M168.55,70.70A3.80,3.80 0 0 1 168.55,78.30Z" fill="#5aeef8"/><circle cx="168.55" cy="74.50" r="3.80" fill="none" stroke="#5aeef8" stroke-width="0.6"/><circle cx="172.82" cy="63.50" r="3.80" fill="#fff"/><path d="M172.82,59.70A3.80,3.80 0 0 1 172.82,67.30Z" fill="#5aeef8"/><circle cx="172.82" cy="63.50" r="3.80" fill="none" stroke="#5aeef8" stroke-width="0.6"/><circle cx="177.09" cy="59.00" r="3.80" fill="#fff"/><path d="M177.09,55.20A3.80,3.80 0 0 1 177.09,62.80Z" fill="#5aeef8"/><circle cx="177.09" cy="59.00" r="3.80" fill="none" stroke="#5aeef8" stroke-width="0.6"/><circle cx="181.36" cy="58.50" r="3.80" fill="#fff"/><path d="M181.36,54.70A3.80,3.80 0 0 1 181.36,62.30Z" fill="#5aeef8"/><circle cx="181.36" cy="58.50" r="3.80" fill="none" stroke="#5aeef8" stroke-width="0.6"/><circle cx="185.63" cy="56.80" r="3.80" fill="#fff"/><path d="M185.63,53.00A3.80,3.80 0 0 1 185.63,60.60Z" fill="#5aeef8"/><circle cx="185.63" cy="56.80" r="3.80" fill="none" stroke="#5aeef8" stroke-width="0.6"/><circle cx="189.90" cy="51.50" r="3.80" fill="#fff"/><path d="M189.90,47.70A3.80,3.80 0 0 1 189.90,55.30Z" fill="#5aeef8"/><circle cx="189.90" cy="51.50" r="3.80" fill="none" stroke="#5aeef8" stroke-width="0.6"/><circle cx="194.17" cy="44.00" r="3.80" fill="#fff"/><path d="M194.17,40.20A3.80,3.80 0 0 1 194.17,47.80Z" fill="#5aeef8"/><circle cx="194.17" cy="44.00" r="3.80" fill="none" stroke="#5aeef8" stroke-width="0.6"/><circle cx="198.44" cy="33.00" r="3.80" fill="#fff"/><path d="M198.44,29.20A3.80,3.80 0 0 1 198.44,36.80Z" fill="#5aeef8"/><circle cx="198.44" cy="33.00" r="3.80" fill="none" stroke="#5aeef8" stroke-width="0.6"/><circle cx="202.71" cy="28.40" r="3.80" fill="#fff"/><path d="M202.71,24.60A3.80,3.80 0 0 1 202.71,32.20Z" fill="#5aeef8"/><circle cx="202.71" cy="28.40" r="3.80" fill="none" stroke="#5aeef8" stroke-width="0.6"/><circle cx="206.98" cy="29.00" r="3.80" fill="#fff"/><path d="M206.98,25.20A3.80,3.80 0 0 1 206.98,32.80Z" fill="#5aeef8"/><circle cx="206.98" cy="29.00" r="3.80" fill="none" stroke="#5aeef8" stroke-width="0.6"/><circle cx="211.25" cy="31.50" r="3.80" fill="#fff"/><path d="M211.25,27.70A3.80,3.80 0 0 1 211.25,35.30Z" fill="#5aeef8"/><circle cx="211.25" cy="31.50" r="3.80" fill="none" stroke="#5aeef8" stroke-width="0.6"/><circle cx="215.52" cy="36.50" r="3.80" fill="#fff"/><path d="M215.52,32.70A3.80,3.80 0 0 1 215.52,40.30Z" fill="#5aeef8"/><circle cx="215.52" cy="36.50" r="3.80" fill="none" stroke="#5aeef8" stroke-width="0.6"/><circle cx="219.79" cy="44.50" r="3.80" fill="#fff"/><path d="M219.79,40.70A3.80,3.80 0 0 1 219.79,48.30Z" fill="#5aeef8"/><circle cx="219.79" cy="44.50" r="3.80" fill="none" stroke="#5aeef8" stroke-width="0.6"/><circle cx="224.06" cy="49.50" r="3.80" fill="#fff"/><path d="M224.06,45.70A3.80,3.80 0 0 1 224.06,53.30Z" fill="#5aeef8"/><circle cx="224.06" cy="49.50" r="3.80" fill="none" stroke="#5aeef8" stroke-width="0.6"/><circle cx="228.33" cy="55.00" r="3.80" fill="#fff"/><path d="M228.33,51.20A3.80,3.80 0 0 1 228.33,58.80Z" fill="#5aeef8"/><circle cx="228.33" cy="55.00" r="3.80" fill="none" stroke="#5aeef8" stroke-width="0.6"/><circle cx="232.60" cy="58.50" r="3.80" fill="#fff"/><path d="M232.60,54.70A3.80,3.80 0 0 1 232.60,62.30Z" fill="#5aeef8"/><circle cx="232.60" cy="58.50" r="3.80" fill="none" stroke="#5aeef8" stroke-width="0.6"/><circle cx="236.87" cy="62.00" r="3.80" fill="#fff"/><path d="M236.87,58.20A3.80,3.80 0 0 1 236.87,65.80Z" fill="#5aeef8"/><circle cx="236.87" cy="62.00" r="3.80" fill="none" stroke="#5aeef8" stroke-width="0.6"/><circle cx="241.14" cy="63.25" r="3.80" fill="#fff"/><path d="M241.14,59.45A3.80,3.80 0 0 1 241.14,67.05Z" fill="#5aeef8"/><circle cx="241.14" cy="63.25" r="3.80" fill="none" stroke="#5aeef8" stroke-width="0.6"/><circle cx="245.41" cy="64.91" r="3.80" fill="#fff"/><path d="M245.41,61.11A3.80,3.80 0 0 1 245.41,68.71Z" fill="#5aeef8"/><circle cx="245.41" cy="64.91" r="3.80" fill="none" stroke="#5aeef8" stroke-width="0.6"/><circle cx="249.68" cy="66.57" r="3.80" fill="#fff"/><path d="M249.68,62.77A3.80,3.80 0 0 1 249.68,70.37Z" fill="#5aeef8"/><circle cx="249.68" cy="66.57" r="3.80" fill="none" stroke="#5aeef8" stroke-width="0.6"/><circle cx="253.95" cy="67.60" r="3.80" fill="#fff"/><path d="M253.95,63.80A3.80,3.80 0 0 1 253.95,71.40Z" fill="#5aeef8"/><circle cx="253.95" cy="67.60" r="3.80" fill="none" stroke="#5aeef8" stroke-width="0.6"/><circle cx="258.22" cy="68.80" r="3.80" fill="#fff"/><path d="M258.22,65.00A3.80,3.80 0 0 1 258.22,72.60Z" fill="#5aeef8"/><circle cx="258.22" cy="68.80" r="3.80" fill="none" stroke="#5aeef8" stroke-width="0.6"/><circle cx="262.49" cy="70.14" r="3.80" fill="#fff"/><path d="M262.49,66.34A3.80,3.80 0 0 1 262.49,73.94Z" fill="#5aeef8"/><circle cx="262.49" cy="70.14" r="3.80" fill="none" stroke="#5aeef8" stroke-width="0.6"/><circle cx="266.76" cy="71.37" r="3.80" fill="#fff"/><path d="M266.76,67.57A3.80,3.80 0 0 1 266.76,75.17Z" fill="#5aeef8"/><circle cx="266.76" cy="71.37" r="3.80" fill="none" stroke="#5aeef8" stroke-width="0.6"/><circle cx="271.03" cy="72.37" r="3.80" fill="#fff"/><path d="M271.03,68.57A3.80,3.80 0 0 1 271.03,76.17Z" fill="#5aeef8"/><circle cx="271.03" cy="72.37" r="3.80" fill="none" stroke="#5aeef8" stroke-width="0.6"/><circle cx="275.30" cy="72.67" r="3.80" fill="#fff"/><path d="M275.30,68.87A3.80,3.80 0 0 1 275.30,76.47Z" fill="#5aeef8"/><circle cx="275.30" cy="72.67" r="3.80" fill="none" stroke="#5aeef8" stroke-width="0.6"/><circle cx="279.57" cy="72.97" r="3.80" fill="#fff"/><path d="M279.57,69.17A3.80,3.80 0 0 1 279.57,76.77Z" fill="#5aeef8"/><circle cx="279.57" cy="72.97" r="3.80" fill="none" stroke="#5aeef8" stroke-width="0.6"/><circle cx="283.84" cy="73.23" r="3.80" fill="#fff"/><path d="M283.84,69.43A3.80,3.80 0 0 1 283.84,77.03Z" fill="#5aeef8"/><circle cx="283.84" cy="73.23" r="3.80" fill="none" stroke="#5aeef8" stroke-width="0.6"/><circle cx="288.11" cy="73.49" r="3.80" fill="#fff"/><path d="M288.11,69.69A3.80,3.80 0 0 1 288.11,77.29Z" fill="#5aeef8"/><circle cx="288.11" cy="73.49" r="3.80" fill="none" stroke="#5aeef8" stroke-width="0.6"/><circle cx="292.38" cy="73.93" r="3.80" fill="#fff"/><path d="M292.38,70.13A3.80,3.80 0 0 1 292.38,77.73Z" fill="#5aeef8"/><circle cx="292.38" cy="73.93" r="3.80" fill="none" stroke="#5aeef8" stroke-width="0.6"/><circle cx="296.65" cy="74.36" r="3.80" fill="#fff"/><path d="M296.65,70.56A3.80,3.80 0 0 1 296.65,78.16Z" fill="#5aeef8"/><circle cx="296.65" cy="74.36" r="3.80" fill="none" stroke="#5aeef8" stroke-width="0.6"/><circle cx="300.92" cy="74.51" r="3.80" fill="#fff"/><path d="M300.92,70.71A3.80,3.80 0 0 1 300.92,78.31Z" fill="#5aeef8"/><circle cx="300.92" cy="74.51" r="3.80" fill="none" stroke="#5aeef8" stroke-width="0.6"/><circle cx="305.19" cy="74.66" r="3.80" fill="#fff"/><path d="M305.19,70.86A3.80,3.80 0 0 1 305.19,78.46Z" fill="#5aeef8"/><circle cx="305.19" cy="74.66" r="3.80" fill="none" stroke="#5aeef8" stroke-width="0.6"/><circle cx="309.46" cy="74.85" r="3.80" fill="#fff"/><path d="M309.46,71.05A3.80,3.80 0 0 1 309.46,78.65Z" fill="#5aeef8"/><circle cx="309.46" cy="74.85" r="3.80" fill="none" stroke="#5aeef8" stroke-width="0.6"/><circle cx="313.73" cy="75.31" r="3.80" fill="#fff"/><path d="M313.73,71.51A3.80,3.80 0 0 1 313.73,79.11Z" fill="#5aeef8"/><circle cx="313.73" cy="75.31" r="3.80" fill="none" stroke="#5aeef8" stroke-width="0.6"/><circle cx="318.00" cy="75.76" r="3.80" fill="#fff"/><path d="M318.00,71.96A3.80,3.80 0 0 1 318.00,79.56Z" fill="#5aeef8"/><circle cx="318.00" cy="75.76" r="3.80" fill="none" stroke="#5aeef8" stroke-width="0.6"/><circle cx="322.27" cy="76.22" r="3.80" fill="#fff"/><path d="M322.27,72.42A3.80,3.80 0 0 1 322.27,80.02Z" fill="#5aeef8"/><circle cx="322.27" cy="76.22" r="3.80" fill="none" stroke="#5aeef8" stroke-width="0.6"/><circle cx="326.54" cy="77.11" r="3.80" fill="#fff"/><path d="M326.54,73.31A3.80,3.80 0 0 1 326.54,80.91Z" fill="#5aeef8"/><circle cx="326.54" cy="77.11" r="3.80" fill="none" stroke="#5aeef8" stroke-width="0.6"/><circle cx="330.81" cy="78.11" r="3.80" fill="#fff"/><path d="M330.81,74.31A3.80,3.80 0 0 1 330.81,81.91Z" fill="#5aeef8"/><circle cx="330.81" cy="78.11" r="3.80" fill="none" stroke="#5aeef8" stroke-width="0.6"/><circle cx="335.08" cy="79.22" r="3.80" fill="#fff"/><path d="M335.08,75.42A3.80,3.80 0 0 1 335.08,83.02Z" fill="#5aeef8"/><circle cx="335.08" cy="79.22" r="3.80" fill="none" stroke="#5aeef8" stroke-width="0.6"/><circle cx="339.35" cy="80.33" r="3.80" fill="#fff"/><path d="M339.35,76.53A3.80,3.80 0 0 1 339.35,84.13Z" fill="#5aeef8"/><circle cx="339.35" cy="80.33" r="3.80" fill="none" stroke="#5aeef8" stroke-width="0.6"/><circle cx="343.62" cy="81.44" r="3.80" fill="#fff"/><path d="M343.62,77.64A3.80,3.80 0 0 1 343.62,85.24Z" fill="#5aeef8"/><circle cx="343.62" cy="81.44" r="3.80" fill="none" stroke="#5aeef8" stroke-width="0.6"/><circle cx="347.89" cy="82.55" r="3.80" fill="#fff"/><path d="M347.89,78.75A3.80,3.80 0 0 1 347.89,86.35Z" fill="#5aeef8"/><circle cx="347.89" cy="82.55" r="3.80" fill="none" stroke="#5aeef8" stroke-width="0.6"/><circle cx="352.16" cy="83.66" r="3.80" fill="#fff"/><path d="M352.16,79.86A3.80,3.80 0 0 1 352.16,87.46Z" fill="#5aeef8"/><circle cx="352.16" cy="83.66" r="3.80" fill="none" stroke="#5aeef8" stroke-width="0.6"/><circle cx="356.43" cy="84.67" r="3.80" fill="#fff"/><path d="M356.43,80.87A3.80,3.80 0 0 1 356.43,88.47Z" fill="#5aeef8"/><circle cx="356.43" cy="84.67" r="3.80" fill="none" stroke="#5aeef8" stroke-width="0.6"/><circle cx="360.70" cy="85.46" r="3.80" fill="#fff"/><path d="M360.70,81.66A3.80,3.80 0 0 1 360.70,89.26Z" fill="#5aeef8"/><circle cx="360.70" cy="85.46" r="3.80" fill="none" stroke="#5aeef8" stroke-width="0.6"/><circle cx="364.97" cy="86.25" r="3.80" fill="#fff"/><path d="M364.97,82.45A3.80,3.80 0 0 1 364.97,90.05Z" fill="#5aeef8"/><circle cx="364.97" cy="86.25" r="3.80" fill="none" stroke="#5aeef8" stroke-width="0.6"/><circle cx="369.24" cy="87.04" r="3.80" fill="#fff"/><path d="M369.24,83.24A3.80,3.80 0 0 1 369.24,90.84Z" fill="#5aeef8"/><circle cx="369.24" cy="87.04" r="3.80" fill="none" stroke="#5aeef8" stroke-width="0.6"/><circle cx="373.51" cy="87.84" r="3.80" fill="#fff"/><path d="M373.51,84.04A3.80,3.80 0 0 1 373.51,91.64Z" fill="#5aeef8"/><circle cx="373.51" cy="87.84" r="3.80" fill="none" stroke="#5aeef8" stroke-width="0.6"/><circle cx="377.78" cy="88.63" r="3.80" fill="#fff"/><path d="M377.78,84.83A3.80,3.80 0 0 1 377.78,92.43Z" fill="#5aeef8"/><circle cx="377.78" cy="88.63" r="3.80" fill="none" stroke="#5aeef8" stroke-width="0.6"/><circle cx="382.05" cy="89.42" r="3.80" fill="#fff"/><path d="M382.05,85.62A3.80,3.80 0 0 1 382.05,93.22Z" fill="#5aeef8"/><circle cx="382.05" cy="89.42" r="3.80" fill="none" stroke="#5aeef8" stroke-width="0.6"/><circle cx="386.32" cy="90.71" r="3.80" fill="#fff"/><path d="M386.32,86.91A3.80,3.80 0 0 1 386.32,94.51Z" fill="#5aeef8"/><circle cx="386.32" cy="90.71" r="3.80" fill="none" stroke="#5aeef8" stroke-width="0.6"/><circle cx="390.59" cy="92.13" r="3.80" fill="#fff"/><path d="M390.59,88.33A3.80,3.80 0 0 1 390.59,95.93Z" fill="#5aeef8"/><circle cx="390.59" cy="92.13" r="3.80" fill="none" stroke="#5aeef8" stroke-width="0.6"/><circle cx="394.86" cy="93.59" r="3.80" fill="#fff"/><path d="M394.86,89.79A3.80,3.80 0 0 1 394.86,97.39Z" fill="#5aeef8"/><circle cx="394.86" cy="93.59" r="3.80" fill="none" stroke="#5aeef8" stroke-width="0.6"/><circle cx="399.13" cy="95.12" r="3.80" fill="#fff"/><path d="M399.13,91.32A3.80,3.80 0 0 1 399.13,98.92Z" fill="#5aeef8"/><circle cx="399.13" cy="95.12" r="3.80" fill="none" stroke="#5aeef8" stroke-width="0.6"/><circle cx="403.40" cy="95.50" r="3.80" fill="#fff"/><path d="M403.40,91.70A3.80,3.80 0 0 1 403.40,99.30Z" fill="#5aeef8"/><circle cx="403.40" cy="95.50" r="3.80" fill="none" stroke="#5aeef8" stroke-width="0.6"/><circle cx="407.67" cy="97.00" r="3.80" fill="#fff"/><path d="M407.67,93.20A3.80,3.80 0 0 1 407.67,100.80Z" fill="#5aeef8"/><circle cx="407.67" cy="97.00" r="3.80" fill="none" stroke="#5aeef8" stroke-width="0.6"/><circle cx="411.94" cy="101.00" r="3.80" fill="#fff"/><path d="M411.94,97.20A3.80,3.80 0 0 1 411.94,104.80Z" fill="#5aeef8"/><circle cx="411.94" cy="101.00" r="3.80" fill="none" stroke="#5aeef8" stroke-width="0.6"/><circle cx="416.21" cy="106.50" r="3.80" fill="#fff"/><path d="M416.21,102.70A3.80,3.80 0 0 1 416.21,110.30Z" fill="#5aeef8"/><circle cx="416.21" cy="106.50" r="3.80" fill="none" stroke="#5aeef8" stroke-width="0.6"/><circle cx="420.48" cy="110.60" r="3.80" fill="#fff"/><path d="M420.48,106.80A3.80,3.80 0 0 1 420.48,114.40Z" fill="#5aeef8"/><circle cx="420.48" cy="110.60" r="3.80" fill="none" stroke="#5aeef8" stroke-width="0.6"/><circle cx="424.75" cy="116.30" r="3.80" fill="#fff"/><path d="M424.75,112.50A3.80,3.80 0 0 1 424.75,120.10Z" fill="#5aeef8"/><circle cx="424.75" cy="116.30" r="3.80" fill="none" stroke="#5aeef8" stroke-width="0.6"/><circle cx="429.02" cy="122.00" r="3.80" fill="#fff"/><path d="M429.02,118.20A3.80,3.80 0 0 1 429.02,125.80Z" fill="#5aeef8"/><circle cx="429.02" cy="122.00" r="3.80" fill="none" stroke="#5aeef8" stroke-width="0.6"/><circle cx="433.29" cy="130.80" r="3.80" fill="#fff"/><path d="M433.29,127.00A3.80,3.80 0 0 1 433.29,134.60Z" fill="#5aeef8"/><circle cx="433.29" cy="130.80" r="3.80" fill="none" stroke="#5aeef8" stroke-width="0.6"/><circle cx="437.56" cy="153.60" r="3.80" fill="#fff"/><path d="M437.56,149.80A3.80,3.80 0 0 1 437.56,157.40Z" fill="#5aeef8"/><circle cx="437.56" cy="153.60" r="3.80" fill="none" stroke="#5aeef8" stroke-width="0.6"/><circle cx="441.83" cy="177.40" r="3.80" fill="#fff"/><path d="M441.83,173.60A3.80,3.80 0 0 1 441.83,181.20Z" fill="#5aeef8"/><circle cx="441.83" cy="177.40" r="3.80" fill="none" stroke="#5aeef8" stroke-width="0.6"/><circle cx="446.10" cy="193.20" r="3.80" fill="#fff"/><path d="M446.10,189.40A3.80,3.80 0 0 1 446.10,197.00Z" fill="#5aeef8"/><circle cx="446.10" cy="193.20" r="3.80" fill="none" stroke="#5aeef8" stroke-width="0.6"/><circle cx="450.37" cy="214.00" r="3.80" fill="#fff"/><path d="M450.37,210.20A3.80,3.80 0 0 1 450.37,217.80Z" fill="#5aeef8"/><circle cx="450.37" cy="214.00" r="3.80" fill="none" stroke="#5aeef8" stroke-width="0.6"/><circle cx="454.64" cy="233.00" r="3.80" fill="#fff"/><path d="M454.64,229.20A3.80,3.80 0 0 1 454.64,236.80Z" fill="#5aeef8"/><circle cx="454.64" cy="233.00" r="3.80" fill="none" stroke="#5aeef8" stroke-width="0.6"/><circle cx="458.91" cy="254.00" r="3.80" fill="#fff"/><path d="M458.91,250.20A3.80,3.80 0 0 1 458.91,257.80Z" fill="#5aeef8"/><circle cx="458.91" cy="254.00" r="3.80" fill="none" stroke="#5aeef8" stroke-width="0.6"/><circle cx="463.18" cy="268.50" r="3.80" fill="#fff"/><path d="M463.18,264.70A3.80,3.80 0 0 1 463.18,272.30Z" fill="#5aeef8"/><circle cx="463.18" cy="268.50" r="3.80" fill="none" stroke="#5aeef8" stroke-width="0.6"/><circle cx="467.45" cy="282.00" r="3.80" fill="#fff"/><path d="M467.45,278.20A3.80,3.80 0 0 1 467.45,285.80Z" fill="#5aeef8"/><circle cx="467.45" cy="282.00" r="3.80" fill="none" stroke="#5aeef8" stroke-width="0.6"/><circle cx="471.72" cy="296.00" r="3.80" fill="#fff"/><path d="M471.72,292.20A3.80,3.80 0 0 1 471.72,299.80Z" fill="#5aeef8"/><circle cx="471.72" cy="296.00" r="3.80" fill="none" stroke="#5aeef8" stroke-width="0.6"/><circle cx="475.99" cy="315.40" r="3.80" fill="#fff"/><path d="M475.99,311.60A3.80,3.80 0 0 1 475.99,319.20Z" fill="#5aeef8"/><circle cx="475.99" cy="315.40" r="3.80" fill="none" stroke="#5aeef8" stroke-width="0.6"/><circle cx="480.26" cy="332.00" r="3.80" fill="#fff"/><path d="M480.26,328.20A3.80,3.80 0 0 1 480.26,335.80Z" fill="#5aeef8"/><circle cx="480.26" cy="332.00" r="3.80" fill="none" stroke="#5aeef8" stroke-width="0.6"/><circle cx="484.53" cy="341.50" r="3.80" fill="#fff"/><path d="M484.53,337.70A3.80,3.80 0 0 1 484.53,345.30Z" fill="#5aeef8"/><circle cx="484.53" cy="341.50" r="3.80" fill="none" stroke="#5aeef8" stroke-width="0.6"/><circle cx="488.80" cy="353.80" r="3.80" fill="#fff"/><path d="M488.80,350.00A3.80,3.80 0 0 1 488.80,357.60Z" fill="#5aeef8"/><circle cx="488.80" cy="353.80" r="3.80" fill="none" stroke="#5aeef8" stroke-width="0.6"/>
</svg>
</body></html>
